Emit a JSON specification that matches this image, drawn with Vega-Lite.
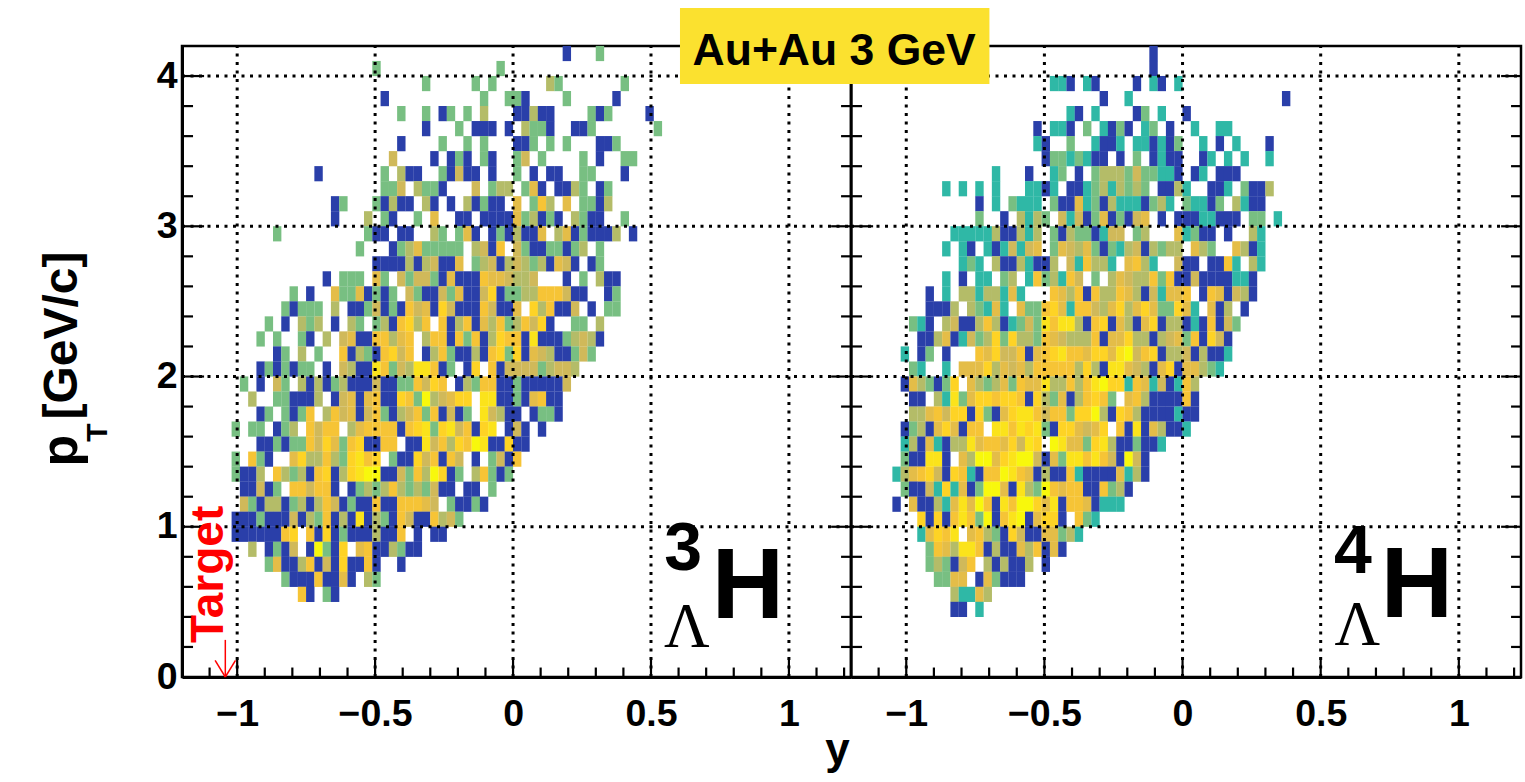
{"background":"white","padding":{"left":33,"top":6,"right":2,"bottom":0},"spacing":0,"bounds":"flush","datasets":{"L":[
{"x":0.195,"y":4.15,"v":1},{"x":0.315,"y":4.15,"v":3},
{"x":-0.495,"y":4.05,"v":3},{"x":-0.045,"y":4.05,"v":3},
{"x":-0.315,"y":3.95,"v":3},{"x":-0.135,"y":3.95,"v":3},{"x":-0.075,"y":3.95,"v":3},{"x":0.135,"y":3.95,"v":4},{"x":0.165,"y":3.95,"v":3},{"x":0.405,"y":3.95,"v":3},
{"x":-0.465,"y":3.85,"v":1},{"x":-0.105,"y":3.85,"v":3},{"x":-0.015,"y":3.85,"v":3},{"x":0.015,"y":3.85,"v":3},{"x":0.045,"y":3.85,"v":1},{"x":0.195,"y":3.85,"v":3},{"x":0.375,"y":3.85,"v":1},
{"x":-0.405,"y":3.75,"v":3},{"x":-0.315,"y":3.75,"v":3},{"x":-0.255,"y":3.75,"v":1},{"x":-0.225,"y":3.75,"v":3},{"x":-0.165,"y":3.75,"v":3},{"x":-0.105,"y":3.75,"v":4},{"x":0.015,"y":3.75,"v":1},{"x":0.045,"y":3.75,"v":1},{"x":0.075,"y":3.75,"v":4},{"x":0.105,"y":3.75,"v":1},{"x":0.135,"y":3.75,"v":1},{"x":0.285,"y":3.75,"v":3},{"x":0.315,"y":3.75,"v":1},{"x":0.345,"y":3.75,"v":3},{"x":0.495,"y":3.75,"v":1},
{"x":-0.315,"y":3.65,"v":1},{"x":-0.195,"y":3.65,"v":3},{"x":-0.135,"y":3.65,"v":1},{"x":-0.105,"y":3.65,"v":1},{"x":-0.075,"y":3.65,"v":1},{"x":-0.015,"y":3.65,"v":1},{"x":0.045,"y":3.65,"v":4},{"x":0.075,"y":3.65,"v":3},{"x":0.105,"y":3.65,"v":3},{"x":0.135,"y":3.65,"v":1},{"x":0.225,"y":3.65,"v":1},{"x":0.255,"y":3.65,"v":1},{"x":0.285,"y":3.65,"v":3},{"x":0.525,"y":3.65,"v":3},
{"x":-0.405,"y":3.55,"v":1},{"x":-0.255,"y":3.55,"v":3},{"x":-0.165,"y":3.55,"v":3},{"x":-0.105,"y":3.55,"v":3},{"x":0.015,"y":3.55,"v":1},{"x":0.045,"y":3.55,"v":1},{"x":0.075,"y":3.55,"v":3},{"x":0.135,"y":3.55,"v":3},{"x":0.195,"y":3.55,"v":3},{"x":0.315,"y":3.55,"v":1},{"x":0.345,"y":3.55,"v":1},{"x":0.375,"y":3.55,"v":3},
{"x":-0.435,"y":3.45,"v":5},{"x":-0.285,"y":3.45,"v":1},{"x":-0.225,"y":3.45,"v":1},{"x":-0.195,"y":3.45,"v":3},{"x":-0.165,"y":3.45,"v":1},{"x":-0.105,"y":3.45,"v":3},{"x":-0.075,"y":3.45,"v":1},{"x":0.015,"y":3.45,"v":3},{"x":0.045,"y":3.45,"v":5},{"x":0.105,"y":3.45,"v":3},{"x":0.255,"y":3.45,"v":3},{"x":0.315,"y":3.45,"v":1},{"x":0.405,"y":3.45,"v":3},{"x":0.435,"y":3.45,"v":3},
{"x":-0.705,"y":3.35,"v":1},{"x":-0.465,"y":3.35,"v":3},{"x":-0.405,"y":3.35,"v":4},{"x":-0.375,"y":3.35,"v":1},{"x":-0.345,"y":3.35,"v":1},{"x":-0.255,"y":3.35,"v":3},{"x":-0.225,"y":3.35,"v":1},{"x":-0.195,"y":3.35,"v":5},{"x":-0.165,"y":3.35,"v":1},{"x":-0.135,"y":3.35,"v":1},{"x":-0.075,"y":3.35,"v":1},{"x":0.015,"y":3.35,"v":3},{"x":0.075,"y":3.35,"v":1},{"x":0.135,"y":3.35,"v":1},{"x":0.165,"y":3.35,"v":1},{"x":0.255,"y":3.35,"v":3},{"x":0.285,"y":3.35,"v":3},{"x":0.405,"y":3.35,"v":1},
{"x":-0.465,"y":3.25,"v":3},{"x":-0.435,"y":3.25,"v":3},{"x":-0.405,"y":3.25,"v":5},{"x":-0.345,"y":3.25,"v":4},{"x":-0.315,"y":3.25,"v":3},{"x":-0.285,"y":3.25,"v":3},{"x":-0.255,"y":3.25,"v":1},{"x":-0.135,"y":3.25,"v":5},{"x":-0.075,"y":3.25,"v":3},{"x":-0.045,"y":3.25,"v":4},{"x":-0.015,"y":3.25,"v":4},{"x":0.045,"y":3.25,"v":3},{"x":0.075,"y":3.25,"v":6},{"x":0.105,"y":3.25,"v":1},{"x":0.165,"y":3.25,"v":1},{"x":0.195,"y":3.25,"v":1},{"x":0.225,"y":3.25,"v":4},{"x":0.255,"y":3.25,"v":3},{"x":0.315,"y":3.25,"v":1},{"x":0.345,"y":3.25,"v":3},
{"x":-0.645,"y":3.15,"v":1},{"x":-0.615,"y":3.15,"v":3},{"x":-0.495,"y":3.15,"v":3},{"x":-0.465,"y":3.15,"v":1},{"x":-0.435,"y":3.15,"v":4},{"x":-0.405,"y":3.15,"v":1},{"x":-0.375,"y":3.15,"v":1},{"x":-0.315,"y":3.15,"v":4},{"x":-0.285,"y":3.15,"v":1},{"x":-0.225,"y":3.15,"v":1},{"x":-0.165,"y":3.15,"v":4},{"x":-0.135,"y":3.15,"v":1},{"x":-0.105,"y":3.15,"v":3},{"x":-0.075,"y":3.15,"v":1},{"x":-0.045,"y":3.15,"v":1},{"x":0.015,"y":3.15,"v":6},{"x":0.075,"y":3.15,"v":3},{"x":0.105,"y":3.15,"v":7},{"x":0.135,"y":3.15,"v":4},{"x":0.195,"y":3.15,"v":6},{"x":0.255,"y":3.15,"v":3},{"x":0.285,"y":3.15,"v":3},{"x":0.315,"y":3.15,"v":1},{"x":0.345,"y":3.15,"v":4},
{"x":-0.645,"y":3.05,"v":1},{"x":-0.525,"y":3.05,"v":4},{"x":-0.465,"y":3.05,"v":3},{"x":-0.435,"y":3.05,"v":1},{"x":-0.345,"y":3.05,"v":3},{"x":-0.285,"y":3.05,"v":6},{"x":-0.195,"y":3.05,"v":1},{"x":-0.165,"y":3.05,"v":1},{"x":-0.105,"y":3.05,"v":1},{"x":-0.075,"y":3.05,"v":1},{"x":-0.045,"y":3.05,"v":1},{"x":-0.015,"y":3.05,"v":1},{"x":0.015,"y":3.05,"v":6},{"x":0.045,"y":3.05,"v":3},{"x":0.075,"y":3.05,"v":4},{"x":0.105,"y":3.05,"v":1},{"x":0.135,"y":3.05,"v":3},{"x":0.165,"y":3.05,"v":1},{"x":0.225,"y":3.05,"v":4},{"x":0.255,"y":3.05,"v":3},{"x":0.285,"y":3.05,"v":1},{"x":0.315,"y":3.05,"v":1},{"x":0.405,"y":3.05,"v":3},
{"x":-0.855,"y":2.95,"v":3},{"x":-0.525,"y":2.95,"v":3},{"x":-0.495,"y":2.95,"v":1},{"x":-0.465,"y":2.95,"v":1},{"x":-0.405,"y":2.95,"v":1},{"x":-0.375,"y":2.95,"v":1},{"x":-0.285,"y":2.95,"v":4},{"x":-0.255,"y":2.95,"v":3},{"x":-0.195,"y":2.95,"v":3},{"x":-0.165,"y":2.95,"v":6},{"x":-0.135,"y":2.95,"v":1},{"x":-0.075,"y":2.95,"v":1},{"x":-0.045,"y":2.95,"v":3},{"x":-0.015,"y":2.95,"v":1},{"x":0.015,"y":2.95,"v":4},{"x":0.045,"y":2.95,"v":1},{"x":0.075,"y":2.95,"v":1},{"x":0.105,"y":2.95,"v":6},{"x":0.165,"y":2.95,"v":4},{"x":0.195,"y":2.95,"v":6},{"x":0.225,"y":2.95,"v":1},{"x":0.255,"y":2.95,"v":3},{"x":0.285,"y":2.95,"v":1},{"x":0.315,"y":2.95,"v":1},{"x":0.345,"y":2.95,"v":1},{"x":0.375,"y":2.95,"v":4},{"x":0.435,"y":2.95,"v":1},
{"x":-0.555,"y":2.85,"v":3},{"x":-0.435,"y":2.85,"v":1},{"x":-0.405,"y":2.85,"v":3},{"x":-0.375,"y":2.85,"v":4},{"x":-0.345,"y":2.85,"v":6},{"x":-0.315,"y":2.85,"v":3},{"x":-0.285,"y":2.85,"v":3},{"x":-0.255,"y":2.85,"v":3},{"x":-0.225,"y":2.85,"v":3},{"x":-0.195,"y":2.85,"v":3},{"x":-0.135,"y":2.85,"v":4},{"x":-0.105,"y":2.85,"v":5},{"x":-0.075,"y":2.85,"v":1},{"x":-0.045,"y":2.85,"v":7},{"x":0.015,"y":2.85,"v":5},{"x":0.045,"y":2.85,"v":3},{"x":0.075,"y":2.85,"v":1},{"x":0.105,"y":2.85,"v":1},{"x":0.135,"y":2.85,"v":3},{"x":0.165,"y":2.85,"v":3},{"x":0.195,"y":2.85,"v":1},{"x":0.225,"y":2.85,"v":3},{"x":0.255,"y":2.85,"v":4},{"x":0.315,"y":2.85,"v":3},
{"x":-0.495,"y":2.75,"v":1},{"x":-0.465,"y":2.75,"v":1},{"x":-0.435,"y":2.75,"v":1},{"x":-0.405,"y":2.75,"v":1},{"x":-0.375,"y":2.75,"v":4},{"x":-0.345,"y":2.75,"v":1},{"x":-0.315,"y":2.75,"v":4},{"x":-0.285,"y":2.75,"v":5},{"x":-0.255,"y":2.75,"v":1},{"x":-0.225,"y":2.75,"v":1},{"x":-0.195,"y":2.75,"v":6},{"x":-0.135,"y":2.75,"v":3},{"x":-0.105,"y":2.75,"v":4},{"x":-0.075,"y":2.75,"v":5},{"x":-0.045,"y":2.75,"v":1},{"x":-0.015,"y":2.75,"v":4},{"x":0.015,"y":2.75,"v":5},{"x":0.045,"y":2.75,"v":4},{"x":0.075,"y":2.75,"v":3},{"x":0.105,"y":2.75,"v":4},{"x":0.135,"y":2.75,"v":1},{"x":0.165,"y":2.75,"v":6},{"x":0.195,"y":2.75,"v":5},{"x":0.225,"y":2.75,"v":1},{"x":0.285,"y":2.75,"v":1},{"x":0.315,"y":2.75,"v":3},
{"x":-0.675,"y":2.65,"v":1},{"x":-0.615,"y":2.65,"v":3},{"x":-0.585,"y":2.65,"v":3},{"x":-0.555,"y":2.65,"v":3},{"x":-0.495,"y":2.65,"v":6},{"x":-0.465,"y":2.65,"v":3},{"x":-0.405,"y":2.65,"v":5},{"x":-0.375,"y":2.65,"v":3},{"x":-0.345,"y":2.65,"v":5},{"x":-0.315,"y":2.65,"v":5},{"x":-0.285,"y":2.65,"v":3},{"x":-0.255,"y":2.65,"v":1},{"x":-0.225,"y":2.65,"v":6},{"x":-0.195,"y":2.65,"v":1},{"x":-0.165,"y":2.65,"v":1},{"x":-0.135,"y":2.65,"v":1},{"x":-0.105,"y":2.65,"v":7},{"x":-0.075,"y":2.65,"v":6},{"x":-0.045,"y":2.65,"v":6},{"x":-0.015,"y":2.65,"v":5},{"x":0.015,"y":2.65,"v":4},{"x":0.045,"y":2.65,"v":4},{"x":0.075,"y":2.65,"v":5},{"x":0.195,"y":2.65,"v":1},{"x":0.255,"y":2.65,"v":3},{"x":0.315,"y":2.65,"v":4},{"x":0.345,"y":2.65,"v":1},{"x":0.375,"y":2.65,"v":1},
{"x":-0.795,"y":2.55,"v":3},{"x":-0.735,"y":2.55,"v":1},{"x":-0.645,"y":2.55,"v":6},{"x":-0.615,"y":2.55,"v":3},{"x":-0.585,"y":2.55,"v":3},{"x":-0.555,"y":2.55,"v":6},{"x":-0.525,"y":2.55,"v":1},{"x":-0.495,"y":2.55,"v":3},{"x":-0.465,"y":2.55,"v":1},{"x":-0.435,"y":2.55,"v":3},{"x":-0.375,"y":2.55,"v":5},{"x":-0.345,"y":2.55,"v":3},{"x":-0.315,"y":2.55,"v":1},{"x":-0.285,"y":2.55,"v":1},{"x":-0.255,"y":2.55,"v":5},{"x":-0.225,"y":2.55,"v":3},{"x":-0.195,"y":2.55,"v":6},{"x":-0.165,"y":2.55,"v":1},{"x":-0.135,"y":2.55,"v":1},{"x":-0.105,"y":2.55,"v":5},{"x":-0.075,"y":2.55,"v":8},{"x":-0.045,"y":2.55,"v":1},{"x":-0.015,"y":2.55,"v":3},{"x":0.015,"y":2.55,"v":3},{"x":0.045,"y":2.55,"v":4},{"x":0.075,"y":2.55,"v":4},{"x":0.105,"y":2.55,"v":7},{"x":0.135,"y":2.55,"v":7},{"x":0.165,"y":2.55,"v":7},{"x":0.195,"y":2.55,"v":5},{"x":0.225,"y":2.55,"v":1},{"x":0.255,"y":2.55,"v":1},{"x":0.345,"y":2.55,"v":1},{"x":0.375,"y":2.55,"v":3},
{"x":-0.825,"y":2.45,"v":3},{"x":-0.795,"y":2.45,"v":1},{"x":-0.765,"y":2.45,"v":3},{"x":-0.735,"y":2.45,"v":3},{"x":-0.705,"y":2.45,"v":3},{"x":-0.645,"y":2.45,"v":4},{"x":-0.585,"y":2.45,"v":1},{"x":-0.555,"y":2.45,"v":1},{"x":-0.525,"y":2.45,"v":3},{"x":-0.495,"y":2.45,"v":5},{"x":-0.465,"y":2.45,"v":1},{"x":-0.435,"y":2.45,"v":3},{"x":-0.405,"y":2.45,"v":1},{"x":-0.375,"y":2.45,"v":7},{"x":-0.345,"y":2.45,"v":5},{"x":-0.315,"y":2.45,"v":6},{"x":-0.285,"y":2.45,"v":1},{"x":-0.255,"y":2.45,"v":8},{"x":-0.225,"y":2.45,"v":5},{"x":-0.195,"y":2.45,"v":1},{"x":-0.165,"y":2.45,"v":1},{"x":-0.135,"y":2.45,"v":1},{"x":-0.105,"y":2.45,"v":7},{"x":-0.075,"y":2.45,"v":5},{"x":-0.045,"y":2.45,"v":1},{"x":-0.015,"y":2.45,"v":1},{"x":0.015,"y":2.45,"v":6},{"x":0.075,"y":2.45,"v":8},{"x":0.105,"y":2.45,"v":4},{"x":0.135,"y":2.45,"v":7},{"x":0.165,"y":2.45,"v":1},{"x":0.195,"y":2.45,"v":1},{"x":0.225,"y":2.45,"v":5},{"x":0.285,"y":2.45,"v":1},{"x":0.345,"y":2.45,"v":3},{"x":0.375,"y":2.45,"v":3},
{"x":-0.885,"y":2.35,"v":3},{"x":-0.825,"y":2.35,"v":1},{"x":-0.765,"y":2.35,"v":4},{"x":-0.735,"y":2.35,"v":3},{"x":-0.705,"y":2.35,"v":4},{"x":-0.645,"y":2.35,"v":1},{"x":-0.585,"y":2.35,"v":4},{"x":-0.555,"y":2.35,"v":3},{"x":-0.495,"y":2.35,"v":3},{"x":-0.465,"y":2.35,"v":4},{"x":-0.435,"y":2.35,"v":1},{"x":-0.405,"y":2.35,"v":7},{"x":-0.375,"y":2.35,"v":8},{"x":-0.345,"y":2.35,"v":4},{"x":-0.315,"y":2.35,"v":7},{"x":-0.255,"y":2.35,"v":7},{"x":-0.225,"y":2.35,"v":1},{"x":-0.195,"y":2.35,"v":4},{"x":-0.165,"y":2.35,"v":7},{"x":-0.135,"y":2.35,"v":1},{"x":-0.105,"y":2.35,"v":6},{"x":-0.075,"y":2.35,"v":4},{"x":-0.045,"y":2.35,"v":7},{"x":-0.015,"y":2.35,"v":3},{"x":0.015,"y":2.35,"v":4},{"x":0.045,"y":2.35,"v":7},{"x":0.075,"y":2.35,"v":5},{"x":0.105,"y":2.35,"v":8},{"x":0.135,"y":2.35,"v":1},{"x":0.225,"y":2.35,"v":3},{"x":0.255,"y":2.35,"v":3},{"x":0.315,"y":2.35,"v":4},
{"x":-0.915,"y":2.25,"v":3},{"x":-0.855,"y":2.25,"v":3},{"x":-0.765,"y":2.25,"v":3},{"x":-0.735,"y":2.25,"v":1},{"x":-0.675,"y":2.25,"v":4},{"x":-0.615,"y":2.25,"v":5},{"x":-0.585,"y":2.25,"v":6},{"x":-0.555,"y":2.25,"v":1},{"x":-0.525,"y":2.25,"v":1},{"x":-0.495,"y":2.25,"v":7},{"x":-0.465,"y":2.25,"v":7},{"x":-0.435,"y":2.25,"v":4},{"x":-0.405,"y":2.25,"v":6},{"x":-0.375,"y":2.25,"v":7},{"x":-0.315,"y":2.25,"v":4},{"x":-0.285,"y":2.25,"v":7},{"x":-0.255,"y":2.25,"v":7},{"x":-0.225,"y":2.25,"v":1},{"x":-0.195,"y":2.25,"v":7},{"x":-0.165,"y":2.25,"v":3},{"x":-0.135,"y":2.25,"v":7},{"x":-0.105,"y":2.25,"v":1},{"x":-0.075,"y":2.25,"v":4},{"x":-0.045,"y":2.25,"v":8},{"x":-0.015,"y":2.25,"v":7},{"x":0.015,"y":2.25,"v":7},{"x":0.045,"y":2.25,"v":1},{"x":0.075,"y":2.25,"v":9},{"x":0.105,"y":2.25,"v":1},{"x":0.135,"y":2.25,"v":1},{"x":0.165,"y":2.25,"v":1},{"x":0.195,"y":2.25,"v":3},{"x":0.225,"y":2.25,"v":4},{"x":0.255,"y":2.25,"v":5},{"x":0.285,"y":2.25,"v":4},{"x":0.315,"y":2.25,"v":1},
{"x":-0.855,"y":2.15,"v":1},{"x":-0.825,"y":2.15,"v":3},{"x":-0.765,"y":2.15,"v":4},{"x":-0.705,"y":2.15,"v":3},{"x":-0.615,"y":2.15,"v":7},{"x":-0.585,"y":2.15,"v":1},{"x":-0.555,"y":2.15,"v":4},{"x":-0.525,"y":2.15,"v":3},{"x":-0.495,"y":2.15,"v":1},{"x":-0.465,"y":2.15,"v":7},{"x":-0.435,"y":2.15,"v":8},{"x":-0.405,"y":2.15,"v":5},{"x":-0.375,"y":2.15,"v":7},{"x":-0.315,"y":2.15,"v":1},{"x":-0.285,"y":2.15,"v":4},{"x":-0.255,"y":2.15,"v":7},{"x":-0.225,"y":2.15,"v":3},{"x":-0.195,"y":2.15,"v":1},{"x":-0.165,"y":2.15,"v":1},{"x":-0.135,"y":2.15,"v":4},{"x":-0.105,"y":2.15,"v":1},{"x":-0.075,"y":2.15,"v":7},{"x":-0.045,"y":2.15,"v":8},{"x":-0.015,"y":2.15,"v":3},{"x":0.015,"y":2.15,"v":8},{"x":0.045,"y":2.15,"v":1},{"x":0.075,"y":2.15,"v":6},{"x":0.105,"y":2.15,"v":5},{"x":0.135,"y":2.15,"v":4},{"x":0.165,"y":2.15,"v":1},{"x":0.195,"y":2.15,"v":1},{"x":0.225,"y":2.15,"v":3},{"x":0.255,"y":2.15,"v":5},{"x":0.285,"y":2.15,"v":3},
{"x":-0.915,"y":2.05,"v":1},{"x":-0.885,"y":2.05,"v":3},{"x":-0.855,"y":2.05,"v":1},{"x":-0.825,"y":2.05,"v":3},{"x":-0.795,"y":2.05,"v":1},{"x":-0.765,"y":2.05,"v":3},{"x":-0.735,"y":2.05,"v":3},{"x":-0.675,"y":2.05,"v":1},{"x":-0.615,"y":2.05,"v":5},{"x":-0.585,"y":2.05,"v":4},{"x":-0.555,"y":2.05,"v":1},{"x":-0.525,"y":2.05,"v":1},{"x":-0.495,"y":2.05,"v":9},{"x":-0.465,"y":2.05,"v":7},{"x":-0.435,"y":2.05,"v":3},{"x":-0.405,"y":2.05,"v":5},{"x":-0.375,"y":2.05,"v":4},{"x":-0.345,"y":2.05,"v":9},{"x":-0.315,"y":2.05,"v":9},{"x":-0.285,"y":2.05,"v":7},{"x":-0.255,"y":2.05,"v":1},{"x":-0.225,"y":2.05,"v":3},{"x":-0.165,"y":2.05,"v":1},{"x":-0.135,"y":2.05,"v":8},{"x":-0.075,"y":2.05,"v":7},{"x":-0.045,"y":2.05,"v":1},{"x":-0.015,"y":2.05,"v":5},{"x":0.015,"y":2.05,"v":5},{"x":0.045,"y":2.05,"v":5},{"x":0.075,"y":2.05,"v":5},{"x":0.105,"y":2.05,"v":3},{"x":0.135,"y":2.05,"v":4},{"x":0.165,"y":2.05,"v":5},{"x":0.195,"y":2.05,"v":5},{"x":0.225,"y":2.05,"v":4},
{"x":-0.975,"y":1.95,"v":3},{"x":-0.915,"y":1.95,"v":1},{"x":-0.855,"y":1.95,"v":5},{"x":-0.825,"y":1.95,"v":3},{"x":-0.765,"y":1.95,"v":4},{"x":-0.735,"y":1.95,"v":1},{"x":-0.705,"y":1.95,"v":4},{"x":-0.675,"y":1.95,"v":1},{"x":-0.645,"y":1.95,"v":3},{"x":-0.615,"y":1.95,"v":4},{"x":-0.585,"y":1.95,"v":1},{"x":-0.555,"y":1.95,"v":1},{"x":-0.525,"y":1.95,"v":1},{"x":-0.495,"y":1.95,"v":5},{"x":-0.465,"y":1.95,"v":1},{"x":-0.435,"y":1.95,"v":1},{"x":-0.405,"y":1.95,"v":3},{"x":-0.375,"y":1.95,"v":3},{"x":-0.345,"y":1.95,"v":7},{"x":-0.315,"y":1.95,"v":5},{"x":-0.285,"y":1.95,"v":8},{"x":-0.255,"y":1.95,"v":7},{"x":-0.195,"y":1.95,"v":1},{"x":-0.165,"y":1.95,"v":4},{"x":-0.135,"y":1.95,"v":3},{"x":-0.105,"y":1.95,"v":7},{"x":-0.075,"y":1.95,"v":7},{"x":-0.045,"y":1.95,"v":1},{"x":-0.015,"y":1.95,"v":1},{"x":0.015,"y":1.95,"v":3},{"x":0.045,"y":1.95,"v":1},{"x":0.075,"y":1.95,"v":1},{"x":0.105,"y":1.95,"v":1},{"x":0.135,"y":1.95,"v":1},{"x":0.165,"y":1.95,"v":1},{"x":0.195,"y":1.95,"v":5},
{"x":-0.945,"y":1.85,"v":4},{"x":-0.855,"y":1.85,"v":3},{"x":-0.825,"y":1.85,"v":3},{"x":-0.795,"y":1.85,"v":1},{"x":-0.765,"y":1.85,"v":1},{"x":-0.735,"y":1.85,"v":1},{"x":-0.705,"y":1.85,"v":4},{"x":-0.645,"y":1.85,"v":1},{"x":-0.615,"y":1.85,"v":5},{"x":-0.585,"y":1.85,"v":6},{"x":-0.555,"y":1.85,"v":1},{"x":-0.525,"y":1.85,"v":6},{"x":-0.495,"y":1.85,"v":7},{"x":-0.465,"y":1.85,"v":1},{"x":-0.435,"y":1.85,"v":1},{"x":-0.405,"y":1.85,"v":8},{"x":-0.375,"y":1.85,"v":7},{"x":-0.345,"y":1.85,"v":3},{"x":-0.315,"y":1.85,"v":10},{"x":-0.285,"y":1.85,"v":4},{"x":-0.255,"y":1.85,"v":5},{"x":-0.225,"y":1.85,"v":6},{"x":-0.195,"y":1.85,"v":8},{"x":-0.165,"y":1.85,"v":8},{"x":-0.105,"y":1.85,"v":9},{"x":-0.075,"y":1.85,"v":9},{"x":-0.045,"y":1.85,"v":1},{"x":-0.015,"y":1.85,"v":1},{"x":0.015,"y":1.85,"v":3},{"x":0.045,"y":1.85,"v":1},{"x":0.075,"y":1.85,"v":6},{"x":0.105,"y":1.85,"v":7},{"x":0.135,"y":1.85,"v":1},{"x":0.165,"y":1.85,"v":1},
{"x":-0.915,"y":1.75,"v":1},{"x":-0.885,"y":1.75,"v":3},{"x":-0.825,"y":1.75,"v":3},{"x":-0.795,"y":1.75,"v":1},{"x":-0.765,"y":1.75,"v":3},{"x":-0.735,"y":1.75,"v":7},{"x":-0.675,"y":1.75,"v":4},{"x":-0.645,"y":1.75,"v":7},{"x":-0.615,"y":1.75,"v":5},{"x":-0.585,"y":1.75,"v":6},{"x":-0.555,"y":1.75,"v":1},{"x":-0.525,"y":1.75,"v":5},{"x":-0.495,"y":1.75,"v":7},{"x":-0.465,"y":1.75,"v":3},{"x":-0.435,"y":1.75,"v":1},{"x":-0.405,"y":1.75,"v":4},{"x":-0.375,"y":1.75,"v":5},{"x":-0.345,"y":1.75,"v":7},{"x":-0.315,"y":1.75,"v":3},{"x":-0.285,"y":1.75,"v":7},{"x":-0.255,"y":1.75,"v":1},{"x":-0.225,"y":1.75,"v":5},{"x":-0.195,"y":1.75,"v":1},{"x":-0.165,"y":1.75,"v":3},{"x":-0.105,"y":1.75,"v":9},{"x":-0.075,"y":1.75,"v":5},{"x":-0.045,"y":1.75,"v":4},{"x":-0.015,"y":1.75,"v":1},{"x":0.015,"y":1.75,"v":1},{"x":0.075,"y":1.75,"v":1},{"x":0.105,"y":1.75,"v":3},{"x":0.135,"y":1.75,"v":3},{"x":0.165,"y":1.75,"v":1},
{"x":-1.005,"y":1.65,"v":3},{"x":-0.945,"y":1.65,"v":3},{"x":-0.915,"y":1.65,"v":3},{"x":-0.855,"y":1.65,"v":1},{"x":-0.825,"y":1.65,"v":3},{"x":-0.795,"y":1.65,"v":4},{"x":-0.735,"y":1.65,"v":7},{"x":-0.705,"y":1.65,"v":5},{"x":-0.675,"y":1.65,"v":7},{"x":-0.645,"y":1.65,"v":7},{"x":-0.585,"y":1.65,"v":4},{"x":-0.555,"y":1.65,"v":6},{"x":-0.525,"y":1.65,"v":7},{"x":-0.495,"y":1.65,"v":7},{"x":-0.465,"y":1.65,"v":7},{"x":-0.435,"y":1.65,"v":7},{"x":-0.405,"y":1.65,"v":1},{"x":-0.375,"y":1.65,"v":7},{"x":-0.345,"y":1.65,"v":8},{"x":-0.315,"y":1.65,"v":9},{"x":-0.285,"y":1.65,"v":3},{"x":-0.255,"y":1.65,"v":8},{"x":-0.225,"y":1.65,"v":9},{"x":-0.195,"y":1.65,"v":5},{"x":-0.165,"y":1.65,"v":7},{"x":-0.135,"y":1.65,"v":1},{"x":-0.105,"y":1.65,"v":8},{"x":-0.075,"y":1.65,"v":9},{"x":-0.015,"y":1.65,"v":1},{"x":0.015,"y":1.65,"v":5},{"x":0.045,"y":1.65,"v":1},{"x":0.105,"y":1.65,"v":1},
{"x":-0.915,"y":1.55,"v":1},{"x":-0.885,"y":1.55,"v":1},{"x":-0.855,"y":1.55,"v":3},{"x":-0.825,"y":1.55,"v":1},{"x":-0.795,"y":1.55,"v":3},{"x":-0.765,"y":1.55,"v":3},{"x":-0.735,"y":1.55,"v":7},{"x":-0.705,"y":1.55,"v":5},{"x":-0.675,"y":1.55,"v":8},{"x":-0.645,"y":1.55,"v":6},{"x":-0.615,"y":1.55,"v":3},{"x":-0.585,"y":1.55,"v":7},{"x":-0.555,"y":1.55,"v":8},{"x":-0.525,"y":1.55,"v":1},{"x":-0.495,"y":1.55,"v":1},{"x":-0.465,"y":1.55,"v":7},{"x":-0.435,"y":1.55,"v":7},{"x":-0.375,"y":1.55,"v":1},{"x":-0.345,"y":1.55,"v":1},{"x":-0.315,"y":1.55,"v":9},{"x":-0.285,"y":1.55,"v":5},{"x":-0.255,"y":1.55,"v":7},{"x":-0.225,"y":1.55,"v":4},{"x":-0.195,"y":1.55,"v":8},{"x":-0.165,"y":1.55,"v":7},{"x":-0.135,"y":1.55,"v":10},{"x":-0.105,"y":1.55,"v":9},{"x":-0.075,"y":1.55,"v":1},{"x":-0.045,"y":1.55,"v":1},{"x":-0.015,"y":1.55,"v":8},{"x":0.015,"y":1.55,"v":1},{"x":0.045,"y":1.55,"v":1},
{"x":-1.005,"y":1.45,"v":3},{"x":-0.945,"y":1.45,"v":7},{"x":-0.915,"y":1.45,"v":3},{"x":-0.885,"y":1.45,"v":1},{"x":-0.795,"y":1.45,"v":6},{"x":-0.765,"y":1.45,"v":8},{"x":-0.735,"y":1.45,"v":4},{"x":-0.705,"y":1.45,"v":4},{"x":-0.675,"y":1.45,"v":7},{"x":-0.645,"y":1.45,"v":4},{"x":-0.615,"y":1.45,"v":3},{"x":-0.585,"y":1.45,"v":8},{"x":-0.555,"y":1.45,"v":9},{"x":-0.525,"y":1.45,"v":7},{"x":-0.495,"y":1.45,"v":8},{"x":-0.435,"y":1.45,"v":3},{"x":-0.405,"y":1.45,"v":1},{"x":-0.375,"y":1.45,"v":1},{"x":-0.345,"y":1.45,"v":8},{"x":-0.315,"y":1.45,"v":5},{"x":-0.285,"y":1.45,"v":7},{"x":-0.255,"y":1.45,"v":1},{"x":-0.225,"y":1.45,"v":7},{"x":-0.195,"y":1.45,"v":5},{"x":-0.135,"y":1.45,"v":1},{"x":-0.075,"y":1.45,"v":3},{"x":-0.045,"y":1.45,"v":5},{"x":-0.015,"y":1.45,"v":1},{"x":0.015,"y":1.45,"v":7},
{"x":-1.005,"y":1.35,"v":3},{"x":-0.975,"y":1.35,"v":1},{"x":-0.945,"y":1.35,"v":1},{"x":-0.915,"y":1.35,"v":4},{"x":-0.855,"y":1.35,"v":7},{"x":-0.825,"y":1.35,"v":4},{"x":-0.795,"y":1.35,"v":3},{"x":-0.765,"y":1.35,"v":4},{"x":-0.735,"y":1.35,"v":1},{"x":-0.705,"y":1.35,"v":7},{"x":-0.675,"y":1.35,"v":8},{"x":-0.645,"y":1.35,"v":1},{"x":-0.615,"y":1.35,"v":4},{"x":-0.585,"y":1.35,"v":8},{"x":-0.555,"y":1.35,"v":9},{"x":-0.525,"y":1.35,"v":10},{"x":-0.495,"y":1.35,"v":10},{"x":-0.465,"y":1.35,"v":1},{"x":-0.435,"y":1.35,"v":1},{"x":-0.405,"y":1.35,"v":5},{"x":-0.375,"y":1.35,"v":3},{"x":-0.345,"y":1.35,"v":7},{"x":-0.315,"y":1.35,"v":4},{"x":-0.285,"y":1.35,"v":10},{"x":-0.255,"y":1.35,"v":8},{"x":-0.225,"y":1.35,"v":1},{"x":-0.195,"y":1.35,"v":3},{"x":-0.135,"y":1.35,"v":4},{"x":-0.105,"y":1.35,"v":7},{"x":-0.075,"y":1.35,"v":3},{"x":-0.045,"y":1.35,"v":1},{"x":-0.015,"y":1.35,"v":3},
{"x":-0.975,"y":1.25,"v":1},{"x":-0.945,"y":1.25,"v":1},{"x":-0.915,"y":1.25,"v":5},{"x":-0.885,"y":1.25,"v":1},{"x":-0.855,"y":1.25,"v":3},{"x":-0.795,"y":1.25,"v":7},{"x":-0.765,"y":1.25,"v":7},{"x":-0.735,"y":1.25,"v":5},{"x":-0.705,"y":1.25,"v":7},{"x":-0.675,"y":1.25,"v":7},{"x":-0.645,"y":1.25,"v":1},{"x":-0.585,"y":1.25,"v":1},{"x":-0.555,"y":1.25,"v":3},{"x":-0.525,"y":1.25,"v":4},{"x":-0.495,"y":1.25,"v":3},{"x":-0.465,"y":1.25,"v":4},{"x":-0.435,"y":1.25,"v":7},{"x":-0.405,"y":1.25,"v":4},{"x":-0.375,"y":1.25,"v":3},{"x":-0.345,"y":1.25,"v":4},{"x":-0.315,"y":1.25,"v":3},{"x":-0.285,"y":1.25,"v":5},{"x":-0.255,"y":1.25,"v":1},{"x":-0.225,"y":1.25,"v":1},{"x":-0.165,"y":1.25,"v":1},{"x":-0.135,"y":1.25,"v":1},{"x":-0.075,"y":1.25,"v":3},
{"x":-0.975,"y":1.15,"v":5},{"x":-0.945,"y":1.15,"v":3},{"x":-0.915,"y":1.15,"v":1},{"x":-0.885,"y":1.15,"v":4},{"x":-0.855,"y":1.15,"v":4},{"x":-0.825,"y":1.15,"v":1},{"x":-0.795,"y":1.15,"v":3},{"x":-0.765,"y":1.15,"v":4},{"x":-0.735,"y":1.15,"v":1},{"x":-0.705,"y":1.15,"v":4},{"x":-0.675,"y":1.15,"v":7},{"x":-0.645,"y":1.15,"v":5},{"x":-0.615,"y":1.15,"v":1},{"x":-0.585,"y":1.15,"v":3},{"x":-0.555,"y":1.15,"v":1},{"x":-0.525,"y":1.15,"v":1},{"x":-0.495,"y":1.15,"v":7},{"x":-0.465,"y":1.15,"v":1},{"x":-0.435,"y":1.15,"v":1},{"x":-0.405,"y":1.15,"v":7},{"x":-0.375,"y":1.15,"v":7},{"x":-0.345,"y":1.15,"v":7},{"x":-0.315,"y":1.15,"v":6},{"x":-0.285,"y":1.15,"v":5},{"x":-0.225,"y":1.15,"v":3},{"x":-0.195,"y":1.15,"v":1},{"x":-0.165,"y":1.15,"v":1},{"x":-0.135,"y":1.15,"v":3},{"x":-0.105,"y":1.15,"v":1},
{"x":-1.005,"y":1.05,"v":1},{"x":-0.975,"y":1.05,"v":1},{"x":-0.945,"y":1.05,"v":1},{"x":-0.915,"y":1.05,"v":3},{"x":-0.885,"y":1.05,"v":1},{"x":-0.855,"y":1.05,"v":1},{"x":-0.825,"y":1.05,"v":1},{"x":-0.795,"y":1.05,"v":5},{"x":-0.765,"y":1.05,"v":1},{"x":-0.735,"y":1.05,"v":4},{"x":-0.705,"y":1.05,"v":3},{"x":-0.675,"y":1.05,"v":7},{"x":-0.645,"y":1.05,"v":1},{"x":-0.615,"y":1.05,"v":4},{"x":-0.585,"y":1.05,"v":1},{"x":-0.555,"y":1.05,"v":9},{"x":-0.525,"y":1.05,"v":1},{"x":-0.495,"y":1.05,"v":4},{"x":-0.465,"y":1.05,"v":3},{"x":-0.435,"y":1.05,"v":1},{"x":-0.405,"y":1.05,"v":7},{"x":-0.375,"y":1.05,"v":5},{"x":-0.345,"y":1.05,"v":1},{"x":-0.315,"y":1.05,"v":1},{"x":-0.285,"y":1.05,"v":7},{"x":-0.255,"y":1.05,"v":4},{"x":-0.225,"y":1.05,"v":5},{"x":-0.195,"y":1.05,"v":3},
{"x":-1.005,"y":0.95,"v":1},{"x":-0.975,"y":0.95,"v":1},{"x":-0.945,"y":0.95,"v":1},{"x":-0.915,"y":0.95,"v":1},{"x":-0.885,"y":0.95,"v":1},{"x":-0.855,"y":0.95,"v":1},{"x":-0.825,"y":0.95,"v":7},{"x":-0.795,"y":0.95,"v":8},{"x":-0.735,"y":0.95,"v":7},{"x":-0.705,"y":0.95,"v":1},{"x":-0.675,"y":0.95,"v":8},{"x":-0.645,"y":0.95,"v":1},{"x":-0.615,"y":0.95,"v":3},{"x":-0.585,"y":0.95,"v":1},{"x":-0.555,"y":0.95,"v":1},{"x":-0.525,"y":0.95,"v":1},{"x":-0.495,"y":0.95,"v":4},{"x":-0.465,"y":0.95,"v":1},{"x":-0.435,"y":0.95,"v":1},{"x":-0.405,"y":0.95,"v":7},{"x":-0.345,"y":0.95,"v":1},{"x":-0.285,"y":0.95,"v":1},{"x":-0.255,"y":0.95,"v":1},
{"x":-0.945,"y":0.85,"v":4},{"x":-0.885,"y":0.85,"v":1},{"x":-0.855,"y":0.85,"v":3},{"x":-0.825,"y":0.85,"v":1},{"x":-0.795,"y":0.85,"v":5},{"x":-0.735,"y":0.85,"v":1},{"x":-0.705,"y":0.85,"v":10},{"x":-0.675,"y":0.85,"v":3},{"x":-0.645,"y":0.85,"v":1},{"x":-0.615,"y":0.85,"v":8},{"x":-0.555,"y":0.85,"v":6},{"x":-0.525,"y":0.85,"v":7},{"x":-0.495,"y":0.85,"v":1},{"x":-0.465,"y":0.85,"v":1},{"x":-0.435,"y":0.85,"v":4},{"x":-0.405,"y":0.85,"v":3},{"x":-0.375,"y":0.85,"v":1},{"x":-0.345,"y":0.85,"v":1},
{"x":-0.885,"y":0.75,"v":3},{"x":-0.855,"y":0.75,"v":6},{"x":-0.825,"y":0.75,"v":1},{"x":-0.795,"y":0.75,"v":1},{"x":-0.765,"y":0.75,"v":4},{"x":-0.735,"y":0.75,"v":7},{"x":-0.705,"y":0.75,"v":1},{"x":-0.675,"y":0.75,"v":5},{"x":-0.645,"y":0.75,"v":1},{"x":-0.615,"y":0.75,"v":8},{"x":-0.585,"y":0.75,"v":1},{"x":-0.555,"y":0.75,"v":1},{"x":-0.525,"y":0.75,"v":7},{"x":-0.495,"y":0.75,"v":1},{"x":-0.405,"y":0.75,"v":1},
{"x":-0.825,"y":0.65,"v":3},{"x":-0.795,"y":0.65,"v":1},{"x":-0.765,"y":0.65,"v":1},{"x":-0.735,"y":0.65,"v":1},{"x":-0.705,"y":0.65,"v":7},{"x":-0.675,"y":0.65,"v":1},{"x":-0.645,"y":0.65,"v":1},{"x":-0.615,"y":0.65,"v":6},{"x":-0.585,"y":0.65,"v":1},{"x":-0.525,"y":0.65,"v":4},{"x":-0.495,"y":0.65,"v":3},
{"x":-0.765,"y":0.55,"v":7},{"x":-0.735,"y":0.55,"v":1},{"x":-0.675,"y":0.55,"v":3},{"x":-0.645,"y":0.55,"v":1}
],"R":[
{"x":-0.105,"y":4.15,"v":1},{"x":-0.105,"y":4.05,"v":1},
{"x":-0.465,"y":3.95,"v":2},{"x":-0.435,"y":3.95,"v":2},{"x":-0.405,"y":3.95,"v":1},{"x":-0.345,"y":3.95,"v":2},{"x":-0.315,"y":3.95,"v":1},{"x":-0.165,"y":3.95,"v":1},{"x":-0.105,"y":3.95,"v":2},{"x":-0.075,"y":3.95,"v":1},{"x":-0.015,"y":3.95,"v":2},
{"x":-0.285,"y":3.85,"v":1},{"x":-0.195,"y":3.85,"v":2},{"x":0.375,"y":3.85,"v":1},
{"x":-0.405,"y":3.75,"v":2},{"x":-0.375,"y":3.75,"v":1},{"x":-0.315,"y":3.75,"v":2},{"x":-0.165,"y":3.75,"v":1},{"x":-0.135,"y":3.75,"v":3},{"x":-0.075,"y":3.75,"v":2},{"x":0.015,"y":3.75,"v":1},
{"x":-0.525,"y":3.65,"v":1},{"x":-0.465,"y":3.65,"v":2},{"x":-0.435,"y":3.65,"v":2},{"x":-0.405,"y":3.65,"v":1},{"x":-0.345,"y":3.65,"v":3},{"x":-0.285,"y":3.65,"v":2},{"x":-0.255,"y":3.65,"v":1},{"x":-0.225,"y":3.65,"v":3},{"x":-0.195,"y":3.65,"v":1},{"x":-0.135,"y":3.65,"v":2},{"x":-0.105,"y":3.65,"v":3},{"x":-0.045,"y":3.65,"v":1},{"x":0.045,"y":3.65,"v":2},{"x":0.135,"y":3.65,"v":2},{"x":0.165,"y":3.65,"v":2},
{"x":-0.525,"y":3.55,"v":2},{"x":-0.495,"y":3.55,"v":1},{"x":-0.405,"y":3.55,"v":3},{"x":-0.315,"y":3.55,"v":2},{"x":-0.285,"y":3.55,"v":1},{"x":-0.255,"y":3.55,"v":1},{"x":-0.225,"y":3.55,"v":2},{"x":-0.165,"y":3.55,"v":2},{"x":-0.135,"y":3.55,"v":2},{"x":-0.105,"y":3.55,"v":1},{"x":-0.075,"y":3.55,"v":2},{"x":-0.045,"y":3.55,"v":1},{"x":-0.015,"y":3.55,"v":3},{"x":0.075,"y":3.55,"v":2},{"x":0.135,"y":3.55,"v":1},{"x":0.195,"y":3.55,"v":2},{"x":0.315,"y":3.55,"v":1},
{"x":-0.495,"y":3.45,"v":1},{"x":-0.465,"y":3.45,"v":3},{"x":-0.435,"y":3.45,"v":3},{"x":-0.405,"y":3.45,"v":2},{"x":-0.375,"y":3.45,"v":3},{"x":-0.345,"y":3.45,"v":2},{"x":-0.315,"y":3.45,"v":1},{"x":-0.285,"y":3.45,"v":1},{"x":-0.225,"y":3.45,"v":1},{"x":-0.165,"y":3.45,"v":3},{"x":-0.105,"y":3.45,"v":1},{"x":-0.075,"y":3.45,"v":2},{"x":-0.045,"y":3.45,"v":1},{"x":-0.015,"y":3.45,"v":1},{"x":0.075,"y":3.45,"v":1},{"x":0.105,"y":3.45,"v":2},{"x":0.165,"y":3.45,"v":2},{"x":0.225,"y":3.45,"v":2},{"x":0.315,"y":3.45,"v":2},
{"x":-0.675,"y":3.35,"v":2},{"x":-0.555,"y":3.35,"v":1},{"x":-0.465,"y":3.35,"v":2},{"x":-0.435,"y":3.35,"v":3},{"x":-0.375,"y":3.35,"v":1},{"x":-0.315,"y":3.35,"v":3},{"x":-0.285,"y":3.35,"v":4},{"x":-0.255,"y":3.35,"v":4},{"x":-0.225,"y":3.35,"v":4},{"x":-0.195,"y":3.35,"v":3},{"x":-0.165,"y":3.35,"v":5},{"x":-0.135,"y":3.35,"v":3},{"x":-0.105,"y":3.35,"v":3},{"x":-0.075,"y":3.35,"v":2},{"x":-0.045,"y":3.35,"v":2},{"x":-0.015,"y":3.35,"v":1},{"x":0.045,"y":3.35,"v":1},{"x":0.075,"y":3.35,"v":2},{"x":0.135,"y":3.35,"v":1},{"x":0.165,"y":3.35,"v":1},{"x":0.195,"y":3.35,"v":1},
{"x":-0.855,"y":3.25,"v":2},{"x":-0.795,"y":3.25,"v":2},{"x":-0.735,"y":3.25,"v":2},{"x":-0.675,"y":3.25,"v":2},{"x":-0.555,"y":3.25,"v":2},{"x":-0.525,"y":3.25,"v":2},{"x":-0.495,"y":3.25,"v":1},{"x":-0.465,"y":3.25,"v":2},{"x":-0.405,"y":3.25,"v":1},{"x":-0.375,"y":3.25,"v":1},{"x":-0.345,"y":3.25,"v":2},{"x":-0.315,"y":3.25,"v":3},{"x":-0.285,"y":3.25,"v":4},{"x":-0.255,"y":3.25,"v":2},{"x":-0.225,"y":3.25,"v":4},{"x":-0.195,"y":3.25,"v":3},{"x":-0.165,"y":3.25,"v":4},{"x":-0.135,"y":3.25,"v":3},{"x":-0.075,"y":3.25,"v":1},{"x":-0.045,"y":3.25,"v":1},{"x":-0.015,"y":3.25,"v":4},{"x":0.015,"y":3.25,"v":2},{"x":0.105,"y":3.25,"v":1},{"x":0.135,"y":3.25,"v":1},{"x":0.165,"y":3.25,"v":2},{"x":0.225,"y":3.25,"v":3},{"x":0.255,"y":3.25,"v":1},{"x":0.285,"y":3.25,"v":1},{"x":0.315,"y":3.25,"v":4},
{"x":-0.735,"y":3.15,"v":1},{"x":-0.675,"y":3.15,"v":2},{"x":-0.615,"y":3.15,"v":3},{"x":-0.585,"y":3.15,"v":2},{"x":-0.555,"y":3.15,"v":2},{"x":-0.525,"y":3.15,"v":2},{"x":-0.465,"y":3.15,"v":3},{"x":-0.435,"y":3.15,"v":1},{"x":-0.405,"y":3.15,"v":1},{"x":-0.375,"y":3.15,"v":6},{"x":-0.345,"y":3.15,"v":2},{"x":-0.315,"y":3.15,"v":3},{"x":-0.285,"y":3.15,"v":1},{"x":-0.255,"y":3.15,"v":4},{"x":-0.225,"y":3.15,"v":2},{"x":-0.195,"y":3.15,"v":2},{"x":-0.165,"y":3.15,"v":2},{"x":-0.135,"y":3.15,"v":1},{"x":-0.105,"y":3.15,"v":3},{"x":-0.075,"y":3.15,"v":4},{"x":-0.045,"y":3.15,"v":2},{"x":0.015,"y":3.15,"v":3},{"x":0.045,"y":3.15,"v":2},{"x":0.075,"y":3.15,"v":2},{"x":0.105,"y":3.15,"v":1},{"x":0.135,"y":3.15,"v":3},{"x":0.195,"y":3.15,"v":4},{"x":0.225,"y":3.15,"v":2},{"x":0.255,"y":3.15,"v":1},{"x":0.285,"y":3.15,"v":1},
{"x":-0.735,"y":3.05,"v":3},{"x":-0.645,"y":3.05,"v":1},{"x":-0.585,"y":3.05,"v":4},{"x":-0.555,"y":3.05,"v":2},{"x":-0.525,"y":3.05,"v":4},{"x":-0.495,"y":3.05,"v":3},{"x":-0.435,"y":3.05,"v":5},{"x":-0.405,"y":3.05,"v":2},{"x":-0.375,"y":3.05,"v":5},{"x":-0.345,"y":3.05,"v":1},{"x":-0.315,"y":3.05,"v":3},{"x":-0.285,"y":3.05,"v":6},{"x":-0.255,"y":3.05,"v":1},{"x":-0.225,"y":3.05,"v":3},{"x":-0.195,"y":3.05,"v":1},{"x":-0.165,"y":3.05,"v":5},{"x":-0.135,"y":3.05,"v":6},{"x":-0.075,"y":3.05,"v":1},{"x":-0.015,"y":3.05,"v":1},{"x":0.015,"y":3.05,"v":1},{"x":0.045,"y":3.05,"v":1},{"x":0.075,"y":3.05,"v":2},{"x":0.105,"y":3.05,"v":2},{"x":0.135,"y":3.05,"v":1},{"x":0.165,"y":3.05,"v":1},{"x":0.195,"y":3.05,"v":1},{"x":0.255,"y":3.05,"v":3},{"x":0.285,"y":3.05,"v":3},{"x":0.345,"y":3.05,"v":2},
{"x":-0.825,"y":2.95,"v":2},{"x":-0.795,"y":2.95,"v":2},{"x":-0.765,"y":2.95,"v":2},{"x":-0.735,"y":2.95,"v":2},{"x":-0.705,"y":2.95,"v":2},{"x":-0.675,"y":2.95,"v":4},{"x":-0.645,"y":2.95,"v":1},{"x":-0.615,"y":2.95,"v":1},{"x":-0.585,"y":2.95,"v":4},{"x":-0.555,"y":2.95,"v":2},{"x":-0.525,"y":2.95,"v":4},{"x":-0.465,"y":2.95,"v":3},{"x":-0.435,"y":2.95,"v":1},{"x":-0.405,"y":2.95,"v":4},{"x":-0.375,"y":2.95,"v":3},{"x":-0.345,"y":2.95,"v":3},{"x":-0.315,"y":2.95,"v":1},{"x":-0.285,"y":2.95,"v":2},{"x":-0.255,"y":2.95,"v":5},{"x":-0.225,"y":2.95,"v":5},{"x":-0.165,"y":2.95,"v":3},{"x":-0.135,"y":2.95,"v":4},{"x":-0.015,"y":2.95,"v":6},{"x":0.015,"y":2.95,"v":2},{"x":0.045,"y":2.95,"v":3},{"x":0.075,"y":2.95,"v":1},{"x":0.105,"y":2.95,"v":1},{"x":0.165,"y":2.95,"v":1},{"x":0.255,"y":2.95,"v":4},{"x":0.285,"y":2.95,"v":2},
{"x":-0.855,"y":2.85,"v":2},{"x":-0.795,"y":2.85,"v":2},{"x":-0.765,"y":2.85,"v":1},{"x":-0.705,"y":2.85,"v":2},{"x":-0.675,"y":2.85,"v":1},{"x":-0.645,"y":2.85,"v":2},{"x":-0.615,"y":2.85,"v":5},{"x":-0.585,"y":2.85,"v":2},{"x":-0.555,"y":2.85,"v":5},{"x":-0.525,"y":2.85,"v":6},{"x":-0.465,"y":2.85,"v":3},{"x":-0.435,"y":2.85,"v":6},{"x":-0.405,"y":2.85,"v":5},{"x":-0.375,"y":2.85,"v":4},{"x":-0.345,"y":2.85,"v":6},{"x":-0.315,"y":2.85,"v":3},{"x":-0.285,"y":2.85,"v":1},{"x":-0.255,"y":2.85,"v":3},{"x":-0.225,"y":2.85,"v":2},{"x":-0.195,"y":2.85,"v":4},{"x":-0.165,"y":2.85,"v":5},{"x":-0.135,"y":2.85,"v":1},{"x":-0.105,"y":2.85,"v":4},{"x":-0.075,"y":2.85,"v":3},{"x":-0.045,"y":2.85,"v":4},{"x":-0.015,"y":2.85,"v":4},{"x":0.045,"y":2.85,"v":6},{"x":0.075,"y":2.85,"v":4},{"x":0.105,"y":2.85,"v":3},{"x":0.195,"y":2.85,"v":6},{"x":0.225,"y":2.85,"v":4},{"x":0.255,"y":2.85,"v":1},{"x":0.285,"y":2.85,"v":2},
{"x":-0.795,"y":2.75,"v":2},{"x":-0.765,"y":2.75,"v":3},{"x":-0.735,"y":2.75,"v":2},{"x":-0.675,"y":2.75,"v":4},{"x":-0.645,"y":2.75,"v":1},{"x":-0.615,"y":2.75,"v":1},{"x":-0.585,"y":2.75,"v":4},{"x":-0.555,"y":2.75,"v":2},{"x":-0.525,"y":2.75,"v":1},{"x":-0.495,"y":2.75,"v":1},{"x":-0.465,"y":2.75,"v":4},{"x":-0.405,"y":2.75,"v":5},{"x":-0.375,"y":2.75,"v":2},{"x":-0.345,"y":2.75,"v":7},{"x":-0.315,"y":2.75,"v":4},{"x":-0.285,"y":2.75,"v":4},{"x":-0.255,"y":2.75,"v":2},{"x":-0.195,"y":2.75,"v":6},{"x":-0.165,"y":2.75,"v":7},{"x":-0.135,"y":2.75,"v":4},{"x":-0.105,"y":2.75,"v":2},{"x":-0.015,"y":2.75,"v":5},{"x":0.015,"y":2.75,"v":1},{"x":0.045,"y":2.75,"v":1},{"x":0.105,"y":2.75,"v":1},{"x":0.135,"y":2.75,"v":1},{"x":0.165,"y":2.75,"v":7},{"x":0.195,"y":2.75,"v":2},{"x":0.255,"y":2.75,"v":4},{"x":0.285,"y":2.75,"v":2},
{"x":-0.855,"y":2.65,"v":2},{"x":-0.795,"y":2.65,"v":1},{"x":-0.735,"y":2.65,"v":2},{"x":-0.705,"y":2.65,"v":2},{"x":-0.645,"y":2.65,"v":3},{"x":-0.615,"y":2.65,"v":4},{"x":-0.555,"y":2.65,"v":2},{"x":-0.525,"y":2.65,"v":7},{"x":-0.495,"y":2.65,"v":3},{"x":-0.465,"y":2.65,"v":4},{"x":-0.435,"y":2.65,"v":2},{"x":-0.405,"y":2.65,"v":7},{"x":-0.375,"y":2.65,"v":5},{"x":-0.315,"y":2.65,"v":3},{"x":-0.255,"y":2.65,"v":4},{"x":-0.225,"y":2.65,"v":6},{"x":-0.195,"y":2.65,"v":5},{"x":-0.165,"y":2.65,"v":4},{"x":-0.135,"y":2.65,"v":4},{"x":-0.105,"y":2.65,"v":7},{"x":-0.075,"y":2.65,"v":3},{"x":-0.045,"y":2.65,"v":7},{"x":-0.015,"y":2.65,"v":1},{"x":0.015,"y":2.65,"v":1},{"x":0.045,"y":2.65,"v":5},{"x":0.075,"y":2.65,"v":1},{"x":0.105,"y":2.65,"v":1},{"x":0.135,"y":2.65,"v":1},{"x":0.165,"y":2.65,"v":1},{"x":0.195,"y":2.65,"v":2},{"x":0.225,"y":2.65,"v":2},{"x":0.255,"y":2.65,"v":1},
{"x":-0.915,"y":2.55,"v":1},{"x":-0.855,"y":2.55,"v":2},{"x":-0.795,"y":2.55,"v":4},{"x":-0.765,"y":2.55,"v":4},{"x":-0.735,"y":2.55,"v":2},{"x":-0.705,"y":2.55,"v":4},{"x":-0.675,"y":2.55,"v":4},{"x":-0.645,"y":2.55,"v":2},{"x":-0.615,"y":2.55,"v":6},{"x":-0.585,"y":2.55,"v":2},{"x":-0.465,"y":2.55,"v":7},{"x":-0.435,"y":2.55,"v":6},{"x":-0.405,"y":2.55,"v":4},{"x":-0.375,"y":2.55,"v":7},{"x":-0.345,"y":2.55,"v":1},{"x":-0.315,"y":2.55,"v":7},{"x":-0.285,"y":2.55,"v":4},{"x":-0.255,"y":2.55,"v":4},{"x":-0.225,"y":2.55,"v":7},{"x":-0.195,"y":2.55,"v":6},{"x":-0.165,"y":2.55,"v":4},{"x":-0.135,"y":2.55,"v":1},{"x":-0.105,"y":2.55,"v":5},{"x":-0.075,"y":2.55,"v":2},{"x":-0.045,"y":2.55,"v":6},{"x":-0.015,"y":2.55,"v":6},{"x":0.015,"y":2.55,"v":7},{"x":0.075,"y":2.55,"v":1},{"x":0.105,"y":2.55,"v":7},{"x":0.135,"y":2.55,"v":6},{"x":0.165,"y":2.55,"v":1},{"x":0.195,"y":2.55,"v":5},{"x":0.225,"y":2.55,"v":4},{"x":0.255,"y":2.55,"v":1},
{"x":-0.915,"y":2.45,"v":1},{"x":-0.885,"y":2.45,"v":1},{"x":-0.855,"y":2.45,"v":1},{"x":-0.825,"y":2.45,"v":4},{"x":-0.765,"y":2.45,"v":4},{"x":-0.735,"y":2.45,"v":3},{"x":-0.705,"y":2.45,"v":2},{"x":-0.675,"y":2.45,"v":6},{"x":-0.645,"y":2.45,"v":2},{"x":-0.585,"y":2.45,"v":6},{"x":-0.555,"y":2.45,"v":3},{"x":-0.525,"y":2.45,"v":3},{"x":-0.495,"y":2.45,"v":7},{"x":-0.465,"y":2.45,"v":8},{"x":-0.435,"y":2.45,"v":6},{"x":-0.405,"y":2.45,"v":2},{"x":-0.375,"y":2.45,"v":7},{"x":-0.345,"y":2.45,"v":7},{"x":-0.315,"y":2.45,"v":5},{"x":-0.285,"y":2.45,"v":4},{"x":-0.255,"y":2.45,"v":6},{"x":-0.225,"y":2.45,"v":8},{"x":-0.195,"y":2.45,"v":4},{"x":-0.165,"y":2.45,"v":6},{"x":-0.135,"y":2.45,"v":8},{"x":-0.105,"y":2.45,"v":6},{"x":-0.075,"y":2.45,"v":3},{"x":-0.045,"y":2.45,"v":3},{"x":-0.015,"y":2.45,"v":8},{"x":0.015,"y":2.45,"v":6},{"x":0.045,"y":2.45,"v":2},{"x":0.105,"y":2.45,"v":6},{"x":0.135,"y":2.45,"v":1},{"x":0.165,"y":2.45,"v":4},{"x":0.225,"y":2.45,"v":1},
{"x":-0.975,"y":2.35,"v":3},{"x":-0.945,"y":2.35,"v":2},{"x":-0.915,"y":2.35,"v":1},{"x":-0.855,"y":2.35,"v":4},{"x":-0.825,"y":2.35,"v":5},{"x":-0.795,"y":2.35,"v":1},{"x":-0.765,"y":2.35,"v":1},{"x":-0.735,"y":2.35,"v":4},{"x":-0.705,"y":2.35,"v":7},{"x":-0.675,"y":2.35,"v":4},{"x":-0.645,"y":2.35,"v":1},{"x":-0.615,"y":2.35,"v":2},{"x":-0.585,"y":2.35,"v":3},{"x":-0.555,"y":2.35,"v":5},{"x":-0.525,"y":2.35,"v":3},{"x":-0.495,"y":2.35,"v":9},{"x":-0.465,"y":2.35,"v":7},{"x":-0.435,"y":2.35,"v":9},{"x":-0.405,"y":2.35,"v":9},{"x":-0.375,"y":2.35,"v":4},{"x":-0.345,"y":2.35,"v":1},{"x":-0.315,"y":2.35,"v":7},{"x":-0.285,"y":2.35,"v":8},{"x":-0.255,"y":2.35,"v":1},{"x":-0.225,"y":2.35,"v":6},{"x":-0.195,"y":2.35,"v":4},{"x":-0.165,"y":2.35,"v":1},{"x":-0.135,"y":2.35,"v":6},{"x":-0.105,"y":2.35,"v":8},{"x":-0.075,"y":2.35,"v":1},{"x":-0.045,"y":2.35,"v":4},{"x":-0.015,"y":2.35,"v":4},{"x":0.015,"y":2.35,"v":1},{"x":0.045,"y":2.35,"v":2},{"x":0.075,"y":2.35,"v":1},{"x":0.105,"y":2.35,"v":7},{"x":0.135,"y":2.35,"v":1},{"x":0.165,"y":2.35,"v":5},{"x":0.195,"y":2.35,"v":3},
{"x":-0.945,"y":2.25,"v":1},{"x":-0.915,"y":2.25,"v":1},{"x":-0.885,"y":2.25,"v":4},{"x":-0.855,"y":2.25,"v":6},{"x":-0.825,"y":2.25,"v":1},{"x":-0.795,"y":2.25,"v":2},{"x":-0.765,"y":2.25,"v":5},{"x":-0.735,"y":2.25,"v":3},{"x":-0.705,"y":2.25,"v":4},{"x":-0.675,"y":2.25,"v":8},{"x":-0.645,"y":2.25,"v":3},{"x":-0.615,"y":2.25,"v":8},{"x":-0.585,"y":2.25,"v":4},{"x":-0.555,"y":2.25,"v":4},{"x":-0.525,"y":2.25,"v":3},{"x":-0.495,"y":2.25,"v":7},{"x":-0.465,"y":2.25,"v":6},{"x":-0.435,"y":2.25,"v":5},{"x":-0.405,"y":2.25,"v":4},{"x":-0.375,"y":2.25,"v":4},{"x":-0.345,"y":2.25,"v":4},{"x":-0.315,"y":2.25,"v":7},{"x":-0.285,"y":2.25,"v":1},{"x":-0.255,"y":2.25,"v":6},{"x":-0.225,"y":2.25,"v":6},{"x":-0.195,"y":2.25,"v":8},{"x":-0.165,"y":2.25,"v":4},{"x":-0.135,"y":2.25,"v":4},{"x":-0.105,"y":2.25,"v":1},{"x":-0.075,"y":2.25,"v":4},{"x":-0.045,"y":2.25,"v":5},{"x":-0.015,"y":2.25,"v":6},{"x":0.015,"y":2.25,"v":3},{"x":0.045,"y":2.25,"v":7},{"x":0.075,"y":2.25,"v":1},{"x":0.105,"y":2.25,"v":8},{"x":0.135,"y":2.25,"v":5},{"x":0.165,"y":2.25,"v":1},
{"x":-1.005,"y":2.15,"v":2},{"x":-0.945,"y":2.15,"v":1},{"x":-0.915,"y":2.15,"v":3},{"x":-0.855,"y":2.15,"v":1},{"x":-0.735,"y":2.15,"v":7},{"x":-0.705,"y":2.15,"v":6},{"x":-0.675,"y":2.15,"v":8},{"x":-0.645,"y":2.15,"v":5},{"x":-0.615,"y":2.15,"v":5},{"x":-0.585,"y":2.15,"v":7},{"x":-0.555,"y":2.15,"v":1},{"x":-0.525,"y":2.15,"v":6},{"x":-0.495,"y":2.15,"v":7},{"x":-0.465,"y":2.15,"v":8},{"x":-0.435,"y":2.15,"v":9},{"x":-0.405,"y":2.15,"v":7},{"x":-0.375,"y":2.15,"v":7},{"x":-0.345,"y":2.15,"v":6},{"x":-0.315,"y":2.15,"v":8},{"x":-0.285,"y":2.15,"v":8},{"x":-0.255,"y":2.15,"v":6},{"x":-0.225,"y":2.15,"v":9},{"x":-0.195,"y":2.15,"v":10},{"x":-0.165,"y":2.15,"v":5},{"x":-0.135,"y":2.15,"v":7},{"x":-0.105,"y":2.15,"v":8},{"x":-0.075,"y":2.15,"v":1},{"x":-0.045,"y":2.15,"v":4},{"x":-0.015,"y":2.15,"v":4},{"x":0.015,"y":2.15,"v":5},{"x":0.045,"y":2.15,"v":1},{"x":0.075,"y":2.15,"v":4},{"x":0.105,"y":2.15,"v":1},{"x":0.135,"y":2.15,"v":1},{"x":0.165,"y":2.15,"v":2},
{"x":-0.975,"y":2.05,"v":3},{"x":-0.945,"y":2.05,"v":2},{"x":-0.855,"y":2.05,"v":2},{"x":-0.795,"y":2.05,"v":6},{"x":-0.765,"y":2.05,"v":6},{"x":-0.735,"y":2.05,"v":6},{"x":-0.705,"y":2.05,"v":8},{"x":-0.675,"y":2.05,"v":4},{"x":-0.645,"y":2.05,"v":6},{"x":-0.615,"y":2.05,"v":5},{"x":-0.585,"y":2.05,"v":6},{"x":-0.555,"y":2.05,"v":4},{"x":-0.525,"y":2.05,"v":7},{"x":-0.495,"y":2.05,"v":7},{"x":-0.465,"y":2.05,"v":7},{"x":-0.435,"y":2.05,"v":7},{"x":-0.405,"y":2.05,"v":7},{"x":-0.375,"y":2.05,"v":4},{"x":-0.345,"y":2.05,"v":8},{"x":-0.315,"y":2.05,"v":4},{"x":-0.285,"y":2.05,"v":1},{"x":-0.255,"y":2.05,"v":9},{"x":-0.225,"y":2.05,"v":9},{"x":-0.195,"y":2.05,"v":6},{"x":-0.165,"y":2.05,"v":5},{"x":-0.135,"y":2.05,"v":4},{"x":-0.105,"y":2.05,"v":1},{"x":-0.075,"y":2.05,"v":6},{"x":-0.045,"y":2.05,"v":8},{"x":-0.015,"y":2.05,"v":1},{"x":0.015,"y":2.05,"v":6},{"x":0.045,"y":2.05,"v":6},{"x":0.075,"y":2.05,"v":4},{"x":0.105,"y":2.05,"v":3},{"x":0.135,"y":2.05,"v":2},
{"x":-1.005,"y":1.95,"v":1},{"x":-0.975,"y":1.95,"v":6},{"x":-0.945,"y":1.95,"v":4},{"x":-0.915,"y":1.95,"v":3},{"x":-0.885,"y":1.95,"v":1},{"x":-0.855,"y":1.95,"v":3},{"x":-0.825,"y":1.95,"v":8},{"x":-0.765,"y":1.95,"v":6},{"x":-0.735,"y":1.95,"v":4},{"x":-0.705,"y":1.95,"v":3},{"x":-0.675,"y":1.95,"v":4},{"x":-0.645,"y":1.95,"v":6},{"x":-0.615,"y":1.95,"v":3},{"x":-0.585,"y":1.95,"v":7},{"x":-0.555,"y":1.95,"v":6},{"x":-0.525,"y":1.95,"v":6},{"x":-0.495,"y":1.95,"v":9},{"x":-0.465,"y":1.95,"v":4},{"x":-0.435,"y":1.95,"v":4},{"x":-0.405,"y":1.95,"v":7},{"x":-0.375,"y":1.95,"v":4},{"x":-0.345,"y":1.95,"v":7},{"x":-0.315,"y":1.95,"v":9},{"x":-0.285,"y":1.95,"v":10},{"x":-0.255,"y":1.95,"v":8},{"x":-0.225,"y":1.95,"v":8},{"x":-0.195,"y":1.95,"v":2},{"x":-0.165,"y":1.95,"v":7},{"x":-0.135,"y":1.95,"v":6},{"x":-0.105,"y":1.95,"v":2},{"x":-0.075,"y":1.95,"v":5},{"x":-0.045,"y":1.95,"v":1},{"x":-0.015,"y":1.95,"v":2},{"x":0.015,"y":1.95,"v":7},{"x":0.045,"y":1.95,"v":4},
{"x":-0.975,"y":1.85,"v":1},{"x":-0.945,"y":1.85,"v":1},{"x":-0.885,"y":1.85,"v":4},{"x":-0.855,"y":1.85,"v":2},{"x":-0.825,"y":1.85,"v":9},{"x":-0.795,"y":1.85,"v":3},{"x":-0.765,"y":1.85,"v":6},{"x":-0.735,"y":1.85,"v":8},{"x":-0.705,"y":1.85,"v":8},{"x":-0.675,"y":1.85,"v":7},{"x":-0.645,"y":1.85,"v":8},{"x":-0.615,"y":1.85,"v":8},{"x":-0.585,"y":1.85,"v":7},{"x":-0.555,"y":1.85,"v":1},{"x":-0.525,"y":1.85,"v":8},{"x":-0.495,"y":1.85,"v":4},{"x":-0.465,"y":1.85,"v":3},{"x":-0.435,"y":1.85,"v":6},{"x":-0.405,"y":1.85,"v":1},{"x":-0.375,"y":1.85,"v":4},{"x":-0.345,"y":1.85,"v":7},{"x":-0.315,"y":1.85,"v":8},{"x":-0.285,"y":1.85,"v":7},{"x":-0.255,"y":1.85,"v":3},{"x":-0.195,"y":1.85,"v":6},{"x":-0.165,"y":1.85,"v":7},{"x":-0.135,"y":1.85,"v":4},{"x":-0.105,"y":1.85,"v":1},{"x":-0.075,"y":1.85,"v":1},{"x":-0.045,"y":1.85,"v":1},{"x":-0.015,"y":1.85,"v":1},{"x":0.015,"y":1.85,"v":7},{"x":0.045,"y":1.85,"v":1},
{"x":-0.975,"y":1.75,"v":4},{"x":-0.945,"y":1.75,"v":4},{"x":-0.915,"y":1.75,"v":6},{"x":-0.885,"y":1.75,"v":7},{"x":-0.855,"y":1.75,"v":5},{"x":-0.825,"y":1.75,"v":8},{"x":-0.795,"y":1.75,"v":8},{"x":-0.765,"y":1.75,"v":1},{"x":-0.735,"y":1.75,"v":8},{"x":-0.705,"y":1.75,"v":3},{"x":-0.675,"y":1.75,"v":1},{"x":-0.645,"y":1.75,"v":6},{"x":-0.615,"y":1.75,"v":8},{"x":-0.585,"y":1.75,"v":9},{"x":-0.555,"y":1.75,"v":9},{"x":-0.525,"y":1.75,"v":7},{"x":-0.495,"y":1.75,"v":5},{"x":-0.465,"y":1.75,"v":7},{"x":-0.435,"y":1.75,"v":7},{"x":-0.405,"y":1.75,"v":3},{"x":-0.375,"y":1.75,"v":8},{"x":-0.345,"y":1.75,"v":8},{"x":-0.315,"y":1.75,"v":10},{"x":-0.285,"y":1.75,"v":4},{"x":-0.255,"y":1.75,"v":1},{"x":-0.225,"y":1.75,"v":8},{"x":-0.195,"y":1.75,"v":7},{"x":-0.165,"y":1.75,"v":4},{"x":-0.135,"y":1.75,"v":1},{"x":-0.105,"y":1.75,"v":1},{"x":-0.075,"y":1.75,"v":1},{"x":-0.045,"y":1.75,"v":1},{"x":-0.015,"y":1.75,"v":2},{"x":0.015,"y":1.75,"v":1},{"x":0.045,"y":1.75,"v":1},
{"x":-1.005,"y":1.65,"v":1},{"x":-0.975,"y":1.65,"v":3},{"x":-0.945,"y":1.65,"v":4},{"x":-0.915,"y":1.65,"v":1},{"x":-0.885,"y":1.65,"v":6},{"x":-0.855,"y":1.65,"v":8},{"x":-0.825,"y":1.65,"v":6},{"x":-0.795,"y":1.65,"v":1},{"x":-0.765,"y":1.65,"v":7},{"x":-0.735,"y":1.65,"v":7},{"x":-0.675,"y":1.65,"v":9},{"x":-0.645,"y":1.65,"v":9},{"x":-0.615,"y":1.65,"v":7},{"x":-0.585,"y":1.65,"v":9},{"x":-0.555,"y":1.65,"v":8},{"x":-0.525,"y":1.65,"v":9},{"x":-0.495,"y":1.65,"v":3},{"x":-0.465,"y":1.65,"v":1},{"x":-0.435,"y":1.65,"v":8},{"x":-0.405,"y":1.65,"v":8},{"x":-0.375,"y":1.65,"v":6},{"x":-0.345,"y":1.65,"v":5},{"x":-0.315,"y":1.65,"v":6},{"x":-0.285,"y":1.65,"v":8},{"x":-0.225,"y":1.65,"v":7},{"x":-0.195,"y":1.65,"v":1},{"x":-0.165,"y":1.65,"v":9},{"x":-0.135,"y":1.65,"v":1},{"x":-0.105,"y":1.65,"v":6},{"x":-0.075,"y":1.65,"v":4},{"x":-0.045,"y":1.65,"v":1},{"x":-0.015,"y":1.65,"v":1},{"x":0.015,"y":1.65,"v":2},
{"x":-1.005,"y":1.55,"v":2},{"x":-0.975,"y":1.55,"v":4},{"x":-0.945,"y":1.55,"v":1},{"x":-0.915,"y":1.55,"v":6},{"x":-0.885,"y":1.55,"v":2},{"x":-0.855,"y":1.55,"v":1},{"x":-0.825,"y":1.55,"v":4},{"x":-0.795,"y":1.55,"v":4},{"x":-0.765,"y":1.55,"v":9},{"x":-0.735,"y":1.55,"v":6},{"x":-0.705,"y":1.55,"v":7},{"x":-0.675,"y":1.55,"v":7},{"x":-0.645,"y":1.55,"v":6},{"x":-0.615,"y":1.55,"v":8},{"x":-0.585,"y":1.55,"v":5},{"x":-0.555,"y":1.55,"v":9},{"x":-0.525,"y":1.55,"v":8},{"x":-0.465,"y":1.55,"v":10},{"x":-0.435,"y":1.55,"v":9},{"x":-0.405,"y":1.55,"v":6},{"x":-0.375,"y":1.55,"v":6},{"x":-0.345,"y":1.55,"v":3},{"x":-0.315,"y":1.55,"v":8},{"x":-0.285,"y":1.55,"v":9},{"x":-0.255,"y":1.55,"v":4},{"x":-0.225,"y":1.55,"v":1},{"x":-0.195,"y":1.55,"v":1},{"x":-0.165,"y":1.55,"v":3},{"x":-0.135,"y":1.55,"v":1},{"x":-0.105,"y":1.55,"v":1},{"x":-0.075,"y":1.55,"v":2},
{"x":-1.005,"y":1.45,"v":3},{"x":-0.975,"y":1.45,"v":1},{"x":-0.945,"y":1.45,"v":1},{"x":-0.915,"y":1.45,"v":9},{"x":-0.885,"y":1.45,"v":9},{"x":-0.855,"y":1.45,"v":1},{"x":-0.795,"y":1.45,"v":6},{"x":-0.765,"y":1.45,"v":4},{"x":-0.735,"y":1.45,"v":10},{"x":-0.705,"y":1.45,"v":10},{"x":-0.675,"y":1.45,"v":6},{"x":-0.645,"y":1.45,"v":8},{"x":-0.615,"y":1.45,"v":9},{"x":-0.585,"y":1.45,"v":10},{"x":-0.555,"y":1.45,"v":10},{"x":-0.525,"y":1.45,"v":5},{"x":-0.495,"y":1.45,"v":1},{"x":-0.465,"y":1.45,"v":6},{"x":-0.435,"y":1.45,"v":3},{"x":-0.405,"y":1.45,"v":9},{"x":-0.375,"y":1.45,"v":9},{"x":-0.345,"y":1.45,"v":7},{"x":-0.315,"y":1.45,"v":9},{"x":-0.285,"y":1.45,"v":7},{"x":-0.255,"y":1.45,"v":5},{"x":-0.225,"y":1.45,"v":1},{"x":-0.195,"y":1.45,"v":10},{"x":-0.165,"y":1.45,"v":5},{"x":-0.135,"y":1.45,"v":1},
{"x":-1.035,"y":1.35,"v":2},{"x":-1.005,"y":1.35,"v":4},{"x":-0.975,"y":1.35,"v":6},{"x":-0.945,"y":1.35,"v":7},{"x":-0.915,"y":1.35,"v":8},{"x":-0.885,"y":1.35,"v":5},{"x":-0.855,"y":1.35,"v":1},{"x":-0.825,"y":1.35,"v":8},{"x":-0.795,"y":1.35,"v":7},{"x":-0.765,"y":1.35,"v":2},{"x":-0.735,"y":1.35,"v":1},{"x":-0.705,"y":1.35,"v":7},{"x":-0.675,"y":1.35,"v":7},{"x":-0.645,"y":1.35,"v":10},{"x":-0.615,"y":1.35,"v":9},{"x":-0.585,"y":1.35,"v":7},{"x":-0.555,"y":1.35,"v":6},{"x":-0.525,"y":1.35,"v":1},{"x":-0.495,"y":1.35,"v":4},{"x":-0.465,"y":1.35,"v":1},{"x":-0.435,"y":1.35,"v":1},{"x":-0.405,"y":1.35,"v":7},{"x":-0.375,"y":1.35,"v":2},{"x":-0.345,"y":1.35,"v":1},{"x":-0.315,"y":1.35,"v":1},{"x":-0.285,"y":1.35,"v":1},{"x":-0.255,"y":1.35,"v":1},{"x":-0.225,"y":1.35,"v":6},{"x":-0.195,"y":1.35,"v":2},{"x":-0.165,"y":1.35,"v":4},{"x":-0.135,"y":1.35,"v":1},
{"x":-1.005,"y":1.25,"v":3},{"x":-0.975,"y":1.25,"v":1},{"x":-0.945,"y":1.25,"v":1},{"x":-0.915,"y":1.25,"v":5},{"x":-0.885,"y":1.25,"v":2},{"x":-0.855,"y":1.25,"v":8},{"x":-0.825,"y":1.25,"v":2},{"x":-0.795,"y":1.25,"v":6},{"x":-0.765,"y":1.25,"v":1},{"x":-0.735,"y":1.25,"v":3},{"x":-0.705,"y":1.25,"v":10},{"x":-0.675,"y":1.25,"v":10},{"x":-0.645,"y":1.25,"v":6},{"x":-0.615,"y":1.25,"v":1},{"x":-0.585,"y":1.25,"v":9},{"x":-0.555,"y":1.25,"v":4},{"x":-0.525,"y":1.25,"v":3},{"x":-0.495,"y":1.25,"v":10},{"x":-0.465,"y":1.25,"v":7},{"x":-0.435,"y":1.25,"v":6},{"x":-0.405,"y":1.25,"v":7},{"x":-0.375,"y":1.25,"v":7},{"x":-0.345,"y":1.25,"v":1},{"x":-0.315,"y":1.25,"v":1},{"x":-0.285,"y":1.25,"v":7},{"x":-0.255,"y":1.25,"v":3},{"x":-0.225,"y":1.25,"v":4},{"x":-0.195,"y":1.25,"v":1},
{"x":-1.035,"y":1.15,"v":1},{"x":-0.975,"y":1.15,"v":6},{"x":-0.945,"y":1.15,"v":1},{"x":-0.915,"y":1.15,"v":1},{"x":-0.885,"y":1.15,"v":4},{"x":-0.855,"y":1.15,"v":2},{"x":-0.825,"y":1.15,"v":6},{"x":-0.795,"y":1.15,"v":9},{"x":-0.765,"y":1.15,"v":6},{"x":-0.735,"y":1.15,"v":10},{"x":-0.705,"y":1.15,"v":7},{"x":-0.675,"y":1.15,"v":1},{"x":-0.645,"y":1.15,"v":9},{"x":-0.615,"y":1.15,"v":7},{"x":-0.585,"y":1.15,"v":10},{"x":-0.555,"y":1.15,"v":10},{"x":-0.525,"y":1.15,"v":8},{"x":-0.495,"y":1.15,"v":6},{"x":-0.465,"y":1.15,"v":9},{"x":-0.435,"y":1.15,"v":1},{"x":-0.405,"y":1.15,"v":7},{"x":-0.375,"y":1.15,"v":7},{"x":-0.345,"y":1.15,"v":6},{"x":-0.315,"y":1.15,"v":1},{"x":-0.285,"y":1.15,"v":2},{"x":-0.255,"y":1.15,"v":2},{"x":-0.225,"y":1.15,"v":2},
{"x":-0.945,"y":1.05,"v":8},{"x":-0.915,"y":1.05,"v":1},{"x":-0.885,"y":1.05,"v":8},{"x":-0.855,"y":1.05,"v":1},{"x":-0.825,"y":1.05,"v":7},{"x":-0.795,"y":1.05,"v":9},{"x":-0.765,"y":1.05,"v":7},{"x":-0.735,"y":1.05,"v":3},{"x":-0.705,"y":1.05,"v":10},{"x":-0.675,"y":1.05,"v":1},{"x":-0.645,"y":1.05,"v":7},{"x":-0.615,"y":1.05,"v":9},{"x":-0.585,"y":1.05,"v":10},{"x":-0.555,"y":1.05,"v":1},{"x":-0.525,"y":1.05,"v":6},{"x":-0.495,"y":1.05,"v":8},{"x":-0.465,"y":1.05,"v":8},{"x":-0.435,"y":1.05,"v":1},{"x":-0.375,"y":1.05,"v":7},{"x":-0.345,"y":1.05,"v":3},{"x":-0.315,"y":1.05,"v":2},
{"x":-0.945,"y":0.95,"v":2},{"x":-0.915,"y":0.95,"v":6},{"x":-0.885,"y":0.95,"v":8},{"x":-0.855,"y":0.95,"v":7},{"x":-0.825,"y":0.95,"v":9},{"x":-0.765,"y":0.95,"v":6},{"x":-0.735,"y":0.95,"v":7},{"x":-0.705,"y":0.95,"v":4},{"x":-0.675,"y":0.95,"v":3},{"x":-0.645,"y":0.95,"v":1},{"x":-0.615,"y":0.95,"v":8},{"x":-0.585,"y":0.95,"v":5},{"x":-0.555,"y":0.95,"v":1},{"x":-0.525,"y":0.95,"v":1},{"x":-0.495,"y":0.95,"v":6},{"x":-0.465,"y":0.95,"v":6},{"x":-0.435,"y":0.95,"v":3},{"x":-0.405,"y":0.95,"v":4},{"x":-0.375,"y":0.95,"v":2},
{"x":-0.915,"y":0.85,"v":3},{"x":-0.885,"y":0.85,"v":7},{"x":-0.855,"y":0.85,"v":6},{"x":-0.825,"y":0.85,"v":4},{"x":-0.795,"y":0.85,"v":9},{"x":-0.765,"y":0.85,"v":9},{"x":-0.735,"y":0.85,"v":7},{"x":-0.705,"y":0.85,"v":1},{"x":-0.675,"y":0.85,"v":4},{"x":-0.645,"y":0.85,"v":1},{"x":-0.615,"y":0.85,"v":1},{"x":-0.585,"y":0.85,"v":6},{"x":-0.555,"y":0.85,"v":4},{"x":-0.525,"y":0.85,"v":7},{"x":-0.495,"y":0.85,"v":1},{"x":-0.465,"y":0.85,"v":6},{"x":-0.435,"y":0.85,"v":1},
{"x":-0.915,"y":0.75,"v":3},{"x":-0.885,"y":0.75,"v":4},{"x":-0.855,"y":0.75,"v":3},{"x":-0.825,"y":0.75,"v":1},{"x":-0.795,"y":0.75,"v":5},{"x":-0.765,"y":0.75,"v":7},{"x":-0.705,"y":0.75,"v":4},{"x":-0.675,"y":0.75,"v":1},{"x":-0.645,"y":0.75,"v":4},{"x":-0.615,"y":0.75,"v":1},{"x":-0.585,"y":0.75,"v":1},{"x":-0.555,"y":0.75,"v":4},{"x":-0.495,"y":0.75,"v":1},
{"x":-0.885,"y":0.65,"v":3},{"x":-0.855,"y":0.65,"v":3},{"x":-0.825,"y":0.65,"v":6},{"x":-0.795,"y":0.65,"v":6},{"x":-0.735,"y":0.65,"v":1},{"x":-0.705,"y":0.65,"v":6},{"x":-0.675,"y":0.65,"v":3},{"x":-0.645,"y":0.65,"v":1},{"x":-0.615,"y":0.65,"v":1},{"x":-0.585,"y":0.65,"v":1},
{"x":-0.825,"y":0.55,"v":4},{"x":-0.795,"y":0.55,"v":2},{"x":-0.765,"y":0.55,"v":2},{"x":-0.735,"y":0.55,"v":6},{"x":-0.705,"y":0.55,"v":4},
{"x":-0.825,"y":0.45,"v":1},{"x":-0.795,"y":0.45,"v":1},{"x":-0.735,"y":0.45,"v":2}
],"grid":[{"x":-1,"x2":-1,"y":0,"y2":4.2},{"x":-0.5,"x2":-0.5,"y":0,"y2":4.2},{"x":0,"x2":0,"y":0,"y2":4.2},{"x":0.5,"x2":0.5,"y":0,"y2":4.2},{"x":1,"x2":1,"y":0,"y2":4.2},{"x":-1.2,"x2":1.225,"y":1,"y2":1},{"x":-1.2,"x2":1.225,"y":2,"y2":2},{"x":-1.2,"x2":1.225,"y":3,"y2":3},{"x":-1.2,"x2":1.225,"y":4,"y2":4}],
"ticks":[{"x":-1.2,"x2":-1.12,"y":1,"y2":1},{"x":-1.2,"x2":-1.12,"y":2,"y2":2},{"x":-1.2,"x2":-1.12,"y":3,"y2":3},{"x":-1.2,"x2":-1.12,"y":4,"y2":4},{"x":1.225,"x2":1.153,"y":1,"y2":1},{"x":1.225,"x2":1.153,"y":2,"y2":2},{"x":1.225,"x2":1.153,"y":3,"y2":3},{"x":1.225,"x2":1.153,"y":4,"y2":4},
{"x":-1.2,"x2":-1.16,"y":0.2,"y2":0.2},{"x":-1.2,"x2":-1.16,"y":0.4,"y2":0.4},{"x":-1.2,"x2":-1.16,"y":0.6,"y2":0.6},{"x":-1.2,"x2":-1.16,"y":0.8,"y2":0.8},{"x":-1.2,"x2":-1.16,"y":1.2,"y2":1.2},{"x":-1.2,"x2":-1.16,"y":1.4,"y2":1.4},{"x":-1.2,"x2":-1.16,"y":1.6,"y2":1.6},{"x":-1.2,"x2":-1.16,"y":1.8,"y2":1.8},{"x":-1.2,"x2":-1.16,"y":2.2,"y2":2.2},{"x":-1.2,"x2":-1.16,"y":2.4,"y2":2.4},{"x":-1.2,"x2":-1.16,"y":2.6,"y2":2.6},{"x":-1.2,"x2":-1.16,"y":2.8,"y2":2.8},{"x":-1.2,"x2":-1.16,"y":3.2,"y2":3.2},{"x":-1.2,"x2":-1.16,"y":3.4,"y2":3.4},{"x":-1.2,"x2":-1.16,"y":3.6,"y2":3.6},{"x":-1.2,"x2":-1.16,"y":3.8,"y2":3.8},
{"x":1.225,"x2":1.189,"y":0.2,"y2":0.2},{"x":1.225,"x2":1.189,"y":0.4,"y2":0.4},{"x":1.225,"x2":1.189,"y":0.6,"y2":0.6},{"x":1.225,"x2":1.189,"y":0.8,"y2":0.8},{"x":1.225,"x2":1.189,"y":1.2,"y2":1.2},{"x":1.225,"x2":1.189,"y":1.4,"y2":1.4},{"x":1.225,"x2":1.189,"y":1.6,"y2":1.6},{"x":1.225,"x2":1.189,"y":1.8,"y2":1.8},{"x":1.225,"x2":1.189,"y":2.2,"y2":2.2},{"x":1.225,"x2":1.189,"y":2.4,"y2":2.4},{"x":1.225,"x2":1.189,"y":2.6,"y2":2.6},{"x":1.225,"x2":1.189,"y":2.8,"y2":2.8},{"x":1.225,"x2":1.189,"y":3.2,"y2":3.2},{"x":1.225,"x2":1.189,"y":3.4,"y2":3.4},{"x":1.225,"x2":1.189,"y":3.6,"y2":3.6},{"x":1.225,"x2":1.189,"y":3.8,"y2":3.8},
{"x":-1,"x2":-1,"y":0,"y2":0.125},{"x":-0.5,"x2":-0.5,"y":0,"y2":0.125},{"x":0,"x2":0,"y":0,"y2":0.125},{"x":0.5,"x2":0.5,"y":0,"y2":0.125},{"x":1,"x2":1,"y":0,"y2":0.125},
{"x":-1.1,"x2":-1.1,"y":0,"y2":0.063},{"x":-0.9,"x2":-0.9,"y":0,"y2":0.063},{"x":-0.8,"x2":-0.8,"y":0,"y2":0.063},{"x":-0.7,"x2":-0.7,"y":0,"y2":0.063},{"x":-0.6,"x2":-0.6,"y":0,"y2":0.063},{"x":-0.4,"x2":-0.4,"y":0,"y2":0.063},{"x":-0.3,"x2":-0.3,"y":0,"y2":0.063},{"x":-0.2,"x2":-0.2,"y":0,"y2":0.063},{"x":-0.1,"x2":-0.1,"y":0,"y2":0.063},{"x":0.1,"x2":0.1,"y":0,"y2":0.063},{"x":0.2,"x2":0.2,"y":0,"y2":0.063},{"x":0.3,"x2":0.3,"y":0,"y2":0.063},{"x":0.4,"x2":0.4,"y":0,"y2":0.063},{"x":0.6,"x2":0.6,"y":0,"y2":0.063},{"x":0.7,"x2":0.7,"y":0,"y2":0.063},{"x":0.8,"x2":0.8,"y":0,"y2":0.063},{"x":0.9,"x2":0.9,"y":0,"y2":0.063},{"x":1.1,"x2":1.1,"y":0,"y2":0.063},{"x":1.2,"x2":1.2,"y":0,"y2":0.063}]},
"hconcat":[{"width":669,"height":631,"view":{"stroke":"black","strokeWidth":2.5},"layer":[
{"data":{"name":"L"},"mark":{"type":"rect","width":8.4,"height":15.2},"encoding":{"x":{"field":"x","type":"quantitative","scale":{"domain":[-1.2,1.225],"nice":false,"zero":false},"axis":{"values":[-1,-0.5,0,0.5,1],"format":"~g","grid":false,"ticks":false,"domain":true,"domainColor":"black","domainWidth":3,"labelFont":"Liberation Sans","labelFontWeight":"bold","labelFontSize":37.5,"labelColor":"black","labelPadding":18,"labelBound":false,"labelFlush":false,"labelOverlap":false,"title":"y","titleFont":"Liberation Sans","titleFontWeight":"bold","titleFontSize":44,"titleColor":"black","titleBaseline":"alphabetic","titleX":655,"titleY":86}},"y":{"field":"y","type":"quantitative","scale":{"domain":[0,4.2],"nice":false,"zero":false},"axis":{"values":[0,1,2,3,4],"format":"d","grid":false,"ticks":false,"domain":true,"domainColor":"black","domainWidth":3,"labelFont":"Liberation Sans","labelFontWeight":"bold","labelFontSize":37.5,"labelColor":"black","labelPadding":5,"labelBound":false,"labelFlush":false,"labelOverlap":false,"title":null}},"color":{"field":"v","type":"ordinal","legend":null,"scale":{"domain":[1,2,3,4,5,6,7,8,9,10],"range":["#2A3FA9","#2FB8A6","#78BF82","#B4BC68","#D0B95A","#E4BD48","#F6C436","#FED325","#FBE31B","#F8F80C"]}}}},
{"data":{"name":"grid"},"mark":{"type":"rule","color":"black","strokeWidth":3,"strokeDash":[3,5.5]},"encoding":{"x":{"field":"x","type":"quantitative"},"x2":{"field":"x2"},"y":{"field":"y","type":"quantitative"},"y2":{"field":"y2"}}},
{"data":{"name":"ticks"},"mark":{"type":"rule","color":"black","strokeWidth":2.2},"encoding":{"x":{"field":"x","type":"quantitative"},"x2":{"field":"x2"},"y":{"field":"y","type":"quantitative"},"y2":{"field":"y2"}}},
{"data":{"values":[{"x":-1.05,"y":0.683,"t":"Target"}]},"mark":{"type":"text","font":"Liberation Sans","fontWeight":"bold","fontSize":46,"color":"#FF0000","angle":270,"align":"center","baseline":"alphabetic"},"encoding":{"x":{"field":"x","type":"quantitative"},"y":{"field":"y","type":"quantitative"},"text":{"field":"t"}}},
{"data":{"values":[{"x":-1.043,"x2":-1.043,"y":0.247,"y2":0},{"x":-1.08,"x2":-1.043,"y":0.11,"y2":0},{"x":-1.006,"x2":-1.043,"y":0.11,"y2":0}]},"mark":{"type":"rule","color":"#FF0000","strokeWidth":1.5},"encoding":{"x":{"field":"x","type":"quantitative"},"x2":{"field":"x2"},"y":{"field":"y","type":"quantitative"},"y2":{"field":"y2"}}},
{"data":{"values":[{"x":0.548,"y":0.713,"t":"3"}]},"mark":{"type":"text","font":"Liberation Sans","fontWeight":"bold","fontSize":68,"color":"black","align":"left","baseline":"alphabetic"},"encoding":{"x":{"field":"x","type":"quantitative"},"y":{"field":"y","type":"quantitative"},"text":{"field":"t"}}},
{"data":{"values":[{"x":0.547,"y":0.2,"t":"Λ"}]},"mark":{"type":"text","font":"Liberation Serif","fontSize":63,"color":"black","align":"left","baseline":"alphabetic"},"encoding":{"x":{"field":"x","type":"quantitative"},"y":{"field":"y","type":"quantitative"},"text":{"field":"t"}}},
{"data":{"values":[{"x":0.72,"y":0.393,"t":"H"}]},"mark":{"type":"text","font":"Liberation Sans","fontWeight":"bold","fontSize":100,"color":"black","align":"left","baseline":"alphabetic"},"encoding":{"x":{"field":"x","type":"quantitative"},"y":{"field":"y","type":"quantitative"},"text":{"field":"t"}}},
{"data":{"values":[{"x":-1.58,"y":1.507,"t":"p"}]},"mark":{"type":"text","font":"Liberation Sans","fontWeight":"bold","fontSize":52,"color":"black","angle":270,"align":"center","baseline":"alphabetic"},"encoding":{"x":{"field":"x","type":"quantitative"},"y":{"field":"y","type":"quantitative"},"text":{"field":"t"}}},
{"data":{"values":[{"x":-1.471,"y":1.627,"t":"T"}]},"mark":{"type":"text","font":"Liberation Sans","fontWeight":"bold","fontSize":30,"color":"black","angle":270,"align":"center","baseline":"alphabetic"},"encoding":{"x":{"field":"x","type":"quantitative"},"y":{"field":"y","type":"quantitative"},"text":{"field":"t"}}},
{"data":{"values":[{"x":-1.58,"y":2.273,"t":"[GeV/c]"}]},"mark":{"type":"text","font":"Liberation Sans","fontWeight":"bold","fontSize":48,"color":"black","angle":270,"align":"center","baseline":"alphabetic"},"encoding":{"x":{"field":"x","type":"quantitative"},"y":{"field":"y","type":"quantitative"},"text":{"field":"t"}}}
]},
{"width":670,"height":631,"view":{"stroke":"black","strokeWidth":2.5},"layer":[
{"data":{"name":"R"},"mark":{"type":"rect","width":8.4,"height":15.2},"encoding":{"x":{"field":"x","type":"quantitative","scale":{"domain":[-1.2,1.225],"nice":false,"zero":false},"axis":{"values":[-1,-0.5,0,0.5,1],"format":"~g","grid":false,"ticks":false,"domain":true,"domainColor":"black","domainWidth":3,"labelFont":"Liberation Sans","labelFontWeight":"bold","labelFontSize":37.5,"labelColor":"black","labelPadding":18,"labelBound":false,"labelFlush":false,"labelOverlap":false,"title":null}},"y":{"field":"y","type":"quantitative","scale":{"domain":[0,4.2],"nice":false,"zero":false},"axis":{"values":[0,1,2,3,4],"labels":false,"grid":false,"ticks":false,"domain":true,"domainColor":"black","domainWidth":2,"title":null}},"color":{"field":"v","type":"ordinal","legend":null,"scale":{"domain":[1,2,3,4,5,6,7,8,9,10],"range":["#2A3FA9","#2FB8A6","#78BF82","#B4BC68","#D0B95A","#E4BD48","#F6C436","#FED325","#FBE31B","#F8F80C"]}}}},
{"data":{"name":"grid"},"mark":{"type":"rule","color":"black","strokeWidth":3,"strokeDash":[3,5.5]},"encoding":{"x":{"field":"x","type":"quantitative"},"x2":{"field":"x2"},"y":{"field":"y","type":"quantitative"},"y2":{"field":"y2"}}},
{"data":{"name":"ticks"},"mark":{"type":"rule","color":"black","strokeWidth":2.2},"encoding":{"x":{"field":"x","type":"quantitative"},"x2":{"field":"x2"},"y":{"field":"y","type":"quantitative"},"y2":{"field":"y2"}}},
{"data":{"values":[{"x":-1.819,"x2":-0.699,"y":3.947,"y2":4.453}]},"mark":{"type":"rect","color":"#FBE12F"},"encoding":{"x":{"field":"x","type":"quantitative"},"x2":{"field":"x2"},"y":{"field":"y","type":"quantitative"},"y2":{"field":"y2"}}},
{"data":{"values":[{"x":-1.261,"y":4.075,"t":"Au+Au 3 GeV"}]},"mark":{"type":"text","font":"Liberation Sans","fontWeight":"bold","fontSize":44.5,"color":"black","align":"center","baseline":"alphabetic"},"encoding":{"x":{"field":"x","type":"quantitative"},"y":{"field":"y","type":"quantitative"},"text":{"field":"t"}}},
{"data":{"values":[{"x":0.548,"y":0.695,"t":"4"}]},"mark":{"type":"text","font":"Liberation Sans","fontWeight":"bold","fontSize":68,"color":"black","align":"left","baseline":"alphabetic"},"encoding":{"x":{"field":"x","type":"quantitative"},"y":{"field":"y","type":"quantitative"},"text":{"field":"t"}}},
{"data":{"values":[{"x":0.55,"y":0.21,"t":"Λ"}]},"mark":{"type":"text","font":"Liberation Serif","fontSize":63,"color":"black","align":"left","baseline":"alphabetic"},"encoding":{"x":{"field":"x","type":"quantitative"},"y":{"field":"y","type":"quantitative"},"text":{"field":"t"}}},
{"data":{"values":[{"x":0.717,"y":0.4,"t":"H"}]},"mark":{"type":"text","font":"Liberation Sans","fontWeight":"bold","fontSize":100,"color":"black","align":"left","baseline":"alphabetic"},"encoding":{"x":{"field":"x","type":"quantitative"},"y":{"field":"y","type":"quantitative"},"text":{"field":"t"}}}
]}]}
